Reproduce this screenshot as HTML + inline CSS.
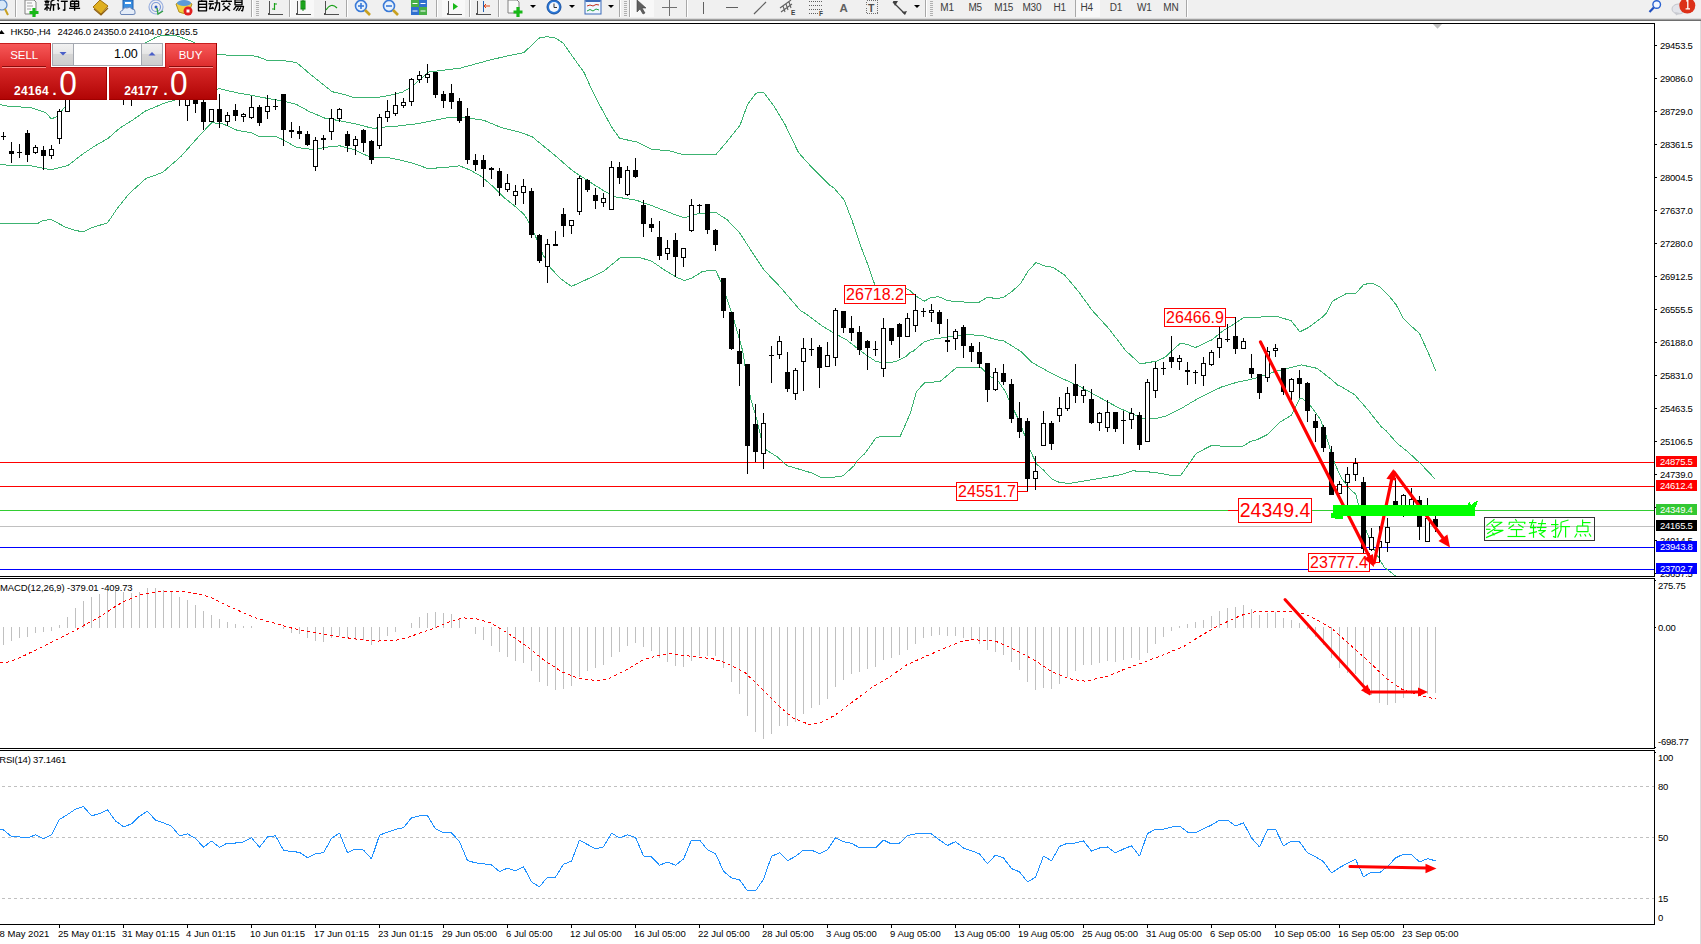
<!DOCTYPE html><html><head><meta charset="utf-8"><title>HK50 H4</title><style>
html,body{margin:0;padding:0;background:#fff;width:1701px;height:944px;overflow:hidden;}
svg{position:absolute;left:0;top:0;display:block;}
text{white-space:pre;}
</style></head><body>
<svg width="1701" height="944" viewBox="0 0 1701 944">
<defs>
<clipPath id="cm"><rect x="0" y="24" width="1654" height="552"/></clipPath>
<clipPath id="cmacd"><rect x="0" y="579" width="1654" height="169"/></clipPath>
<clipPath id="crsi"><rect x="0" y="751" width="1654" height="173"/></clipPath>
<linearGradient id="gsell" x1="0" y1="0" x2="0" y2="1"><stop offset="0" stop-color="#f85a5a"/><stop offset="1" stop-color="#dc2a2a"/></linearGradient>
<linearGradient id="gprice" x1="0" y1="0" x2="0" y2="1"><stop offset="0" stop-color="#d82828"/><stop offset="1" stop-color="#b00404"/></linearGradient>
<linearGradient id="gbtn" x1="0" y1="0" x2="0" y2="1"><stop offset="0" stop-color="#f2f2f2"/><stop offset="0.45" stop-color="#e6e6e6"/><stop offset="0.5" stop-color="#d6d6d6"/><stop offset="1" stop-color="#cdcdcd"/></linearGradient>
</defs>
<rect x="0" y="0" width="1701" height="944" fill="#fff"/>
<rect x="0" y="0" width="1701" height="18" fill="#f0f0f0"/>
<g shape-rendering="crispEdges">
<rect x="0" y="18" width="1701" height="1" fill="#dadada"/>
<rect x="0" y="19" width="1701" height="1" fill="#a0a0a0"/>
<rect x="0" y="20" width="1701" height="1" fill="#6e6e6e"/>
<rect x="15" y="0" width="1" height="17" fill="#a8a8a8"/>
<rect x="16" y="0" width="1" height="17" fill="#ffffff"/>
<rect x="251" y="0" width="1" height="17" fill="#a8a8a8"/>
<rect x="252" y="0" width="1" height="17" fill="#ffffff"/>
<rect x="289" y="0" width="1" height="17" fill="#a8a8a8"/>
<rect x="290" y="0" width="1" height="17" fill="#ffffff"/>
<rect x="346" y="0" width="1" height="17" fill="#a8a8a8"/>
<rect x="347" y="0" width="1" height="17" fill="#ffffff"/>
<rect x="436" y="0" width="1" height="17" fill="#a8a8a8"/>
<rect x="437" y="0" width="1" height="17" fill="#ffffff"/>
<rect x="469" y="0" width="1" height="17" fill="#a8a8a8"/>
<rect x="470" y="0" width="1" height="17" fill="#ffffff"/>
<rect x="498" y="0" width="1" height="17" fill="#a8a8a8"/>
<rect x="499" y="0" width="1" height="17" fill="#ffffff"/>
<rect x="619" y="0" width="1" height="17" fill="#a8a8a8"/>
<rect x="620" y="0" width="1" height="17" fill="#ffffff"/>
<rect x="629" y="0" width="1" height="17" fill="#a8a8a8"/>
<rect x="630" y="0" width="1" height="17" fill="#ffffff"/>
<rect x="686" y="0" width="1" height="17" fill="#a8a8a8"/>
<rect x="687" y="0" width="1" height="17" fill="#ffffff"/>
<rect x="925" y="0" width="1" height="17" fill="#a8a8a8"/>
<rect x="926" y="0" width="1" height="17" fill="#ffffff"/>
<rect x="1075" y="0" width="1" height="17" fill="#a8a8a8"/>
<rect x="1076" y="0" width="1" height="17" fill="#ffffff"/>
<rect x="1186" y="0" width="1" height="17" fill="#a8a8a8"/>
<rect x="1187" y="0" width="1" height="17" fill="#ffffff"/>
<rect x="256" y="1" width="3" height="1" fill="#b0b0b0"/>
<rect x="256" y="3" width="3" height="1" fill="#b0b0b0"/>
<rect x="256" y="5" width="3" height="1" fill="#b0b0b0"/>
<rect x="256" y="7" width="3" height="1" fill="#b0b0b0"/>
<rect x="256" y="9" width="3" height="1" fill="#b0b0b0"/>
<rect x="256" y="11" width="3" height="1" fill="#b0b0b0"/>
<rect x="256" y="13" width="3" height="1" fill="#b0b0b0"/>
<rect x="256" y="15" width="3" height="1" fill="#b0b0b0"/>
<rect x="624" y="1" width="3" height="1" fill="#b0b0b0"/>
<rect x="624" y="3" width="3" height="1" fill="#b0b0b0"/>
<rect x="624" y="5" width="3" height="1" fill="#b0b0b0"/>
<rect x="624" y="7" width="3" height="1" fill="#b0b0b0"/>
<rect x="624" y="9" width="3" height="1" fill="#b0b0b0"/>
<rect x="624" y="11" width="3" height="1" fill="#b0b0b0"/>
<rect x="624" y="13" width="3" height="1" fill="#b0b0b0"/>
<rect x="624" y="15" width="3" height="1" fill="#b0b0b0"/>
<rect x="930" y="1" width="3" height="1" fill="#b0b0b0"/>
<rect x="930" y="3" width="3" height="1" fill="#b0b0b0"/>
<rect x="930" y="5" width="3" height="1" fill="#b0b0b0"/>
<rect x="930" y="7" width="3" height="1" fill="#b0b0b0"/>
<rect x="930" y="9" width="3" height="1" fill="#b0b0b0"/>
<rect x="930" y="11" width="3" height="1" fill="#b0b0b0"/>
<rect x="930" y="13" width="3" height="1" fill="#b0b0b0"/>
<rect x="930" y="15" width="3" height="1" fill="#b0b0b0"/>
<rect x="291" y="0" width="23" height="17" fill="#f8f8f8"/>
<rect x="442" y="0" width="23" height="17" fill="#f8f8f8"/>
<rect x="631" y="0" width="23" height="17" fill="#f8f8f8"/>
<rect x="1076" y="0" width="24" height="17" fill="#f8f8f8"/>
</g>
<circle cx="2" cy="5" r="5" fill="#d8e8f8" stroke="#5a8ac8" stroke-width="1.2"/>
<line x1="5" y1="9" x2="8" y2="15" stroke="#c8a020" stroke-width="2"/>
<path d="M25,0 L34,0 L36,2 L36,14 L25,14 Z" fill="#fafafa" stroke="#808080" stroke-width="1"/>
<path d="M27,3 H32 M27,6 H33 M27,9 H31" stroke="#a0a0a0" stroke-width="1"/>
<path d="M34,8 V17 M29.5,12.5 H38.5" stroke="#18b818" stroke-width="3.2"/>
<polyline points="47.0,-1.2 47.0,0.8" fill="none" stroke="#000" stroke-width="1.35" stroke-linejoin="round" stroke-linecap="butt"/>
<polyline points="44.5,1.3 49.5,1.3" fill="none" stroke="#000" stroke-width="1.35" stroke-linejoin="round" stroke-linecap="butt"/>
<polyline points="45.0,2.8 49.0,2.8" fill="none" stroke="#000" stroke-width="1.35" stroke-linejoin="round" stroke-linecap="butt"/>
<polyline points="44.5,4.8 49.5,4.8" fill="none" stroke="#000" stroke-width="1.35" stroke-linejoin="round" stroke-linecap="butt"/>
<polyline points="47.0,4.8 47.0,10.8" fill="none" stroke="#000" stroke-width="1.35" stroke-linejoin="round" stroke-linecap="butt"/>
<polyline points="47.0,6.8 44.5,9.8" fill="none" stroke="#000" stroke-width="1.35" stroke-linejoin="round" stroke-linecap="butt"/>
<polyline points="47.0,6.8 49.5,8.8" fill="none" stroke="#000" stroke-width="1.35" stroke-linejoin="round" stroke-linecap="butt"/>
<polyline points="55.0,-0.7 51.0,1.3" fill="none" stroke="#000" stroke-width="1.35" stroke-linejoin="round" stroke-linecap="butt"/>
<polyline points="51.0,1.3 51.0,5.8 50.0,10.8" fill="none" stroke="#000" stroke-width="1.35" stroke-linejoin="round" stroke-linecap="butt"/>
<polyline points="51.0,4.8 55.5,4.8" fill="none" stroke="#000" stroke-width="1.35" stroke-linejoin="round" stroke-linecap="butt"/>
<polyline points="53.5,4.8 53.5,10.8" fill="none" stroke="#000" stroke-width="1.35" stroke-linejoin="round" stroke-linecap="butt"/>
<polyline points="57.3,-0.2 58.8,1.3" fill="none" stroke="#000" stroke-width="1.35" stroke-linejoin="round" stroke-linecap="butt"/>
<polyline points="56.8,3.8 58.3,3.8 58.3,9.3 59.8,7.8" fill="none" stroke="#000" stroke-width="1.35" stroke-linejoin="round" stroke-linecap="butt"/>
<polyline points="60.8,1.3 67.8,1.3" fill="none" stroke="#000" stroke-width="1.35" stroke-linejoin="round" stroke-linecap="butt"/>
<polyline points="64.8,1.3 64.8,10.3 62.8,9.8" fill="none" stroke="#000" stroke-width="1.35" stroke-linejoin="round" stroke-linecap="butt"/>
<polyline points="71.6,-1.2 73.1,0.3" fill="none" stroke="#000" stroke-width="1.35" stroke-linejoin="round" stroke-linecap="butt"/>
<polyline points="77.6,-1.2 76.1,0.3" fill="none" stroke="#000" stroke-width="1.35" stroke-linejoin="round" stroke-linecap="butt"/>
<polyline points="70.6,1.3 78.6,1.3 78.6,6.3 70.6,6.3 70.6,1.3" fill="none" stroke="#000" stroke-width="1.35" stroke-linejoin="round" stroke-linecap="butt"/>
<polyline points="70.6,3.8 78.6,3.8" fill="none" stroke="#000" stroke-width="1.35" stroke-linejoin="round" stroke-linecap="butt"/>
<polyline points="74.6,1.3 74.6,10.8" fill="none" stroke="#000" stroke-width="1.35" stroke-linejoin="round" stroke-linecap="butt"/>
<polyline points="69.1,8.3 80.1,8.3" fill="none" stroke="#000" stroke-width="1.35" stroke-linejoin="round" stroke-linecap="butt"/>
<polyline points="202.5,-1.2 201.5,0.8" fill="none" stroke="#000" stroke-width="1.35" stroke-linejoin="round" stroke-linecap="butt"/>
<polyline points="198.5,1.3 206.5,1.3 206.5,10.8 198.5,10.8 198.5,1.3" fill="none" stroke="#000" stroke-width="1.35" stroke-linejoin="round" stroke-linecap="butt"/>
<polyline points="198.5,4.3 206.5,4.3" fill="none" stroke="#000" stroke-width="1.35" stroke-linejoin="round" stroke-linecap="butt"/>
<polyline points="198.5,7.3 206.5,7.3" fill="none" stroke="#000" stroke-width="1.35" stroke-linejoin="round" stroke-linecap="butt"/>
<polyline points="209.0,1.3 213.5,1.3" fill="none" stroke="#000" stroke-width="1.35" stroke-linejoin="round" stroke-linecap="butt"/>
<polyline points="208.5,3.8 214.0,3.8" fill="none" stroke="#000" stroke-width="1.35" stroke-linejoin="round" stroke-linecap="butt"/>
<polyline points="211.0,3.8 209.5,8.8 213.5,7.8" fill="none" stroke="#000" stroke-width="1.35" stroke-linejoin="round" stroke-linecap="butt"/>
<polyline points="212.0,6.8 213.5,8.8" fill="none" stroke="#000" stroke-width="1.35" stroke-linejoin="round" stroke-linecap="butt"/>
<polyline points="214.5,2.8 219.5,2.8 219.5,10.3 218.0,9.8" fill="none" stroke="#000" stroke-width="1.35" stroke-linejoin="round" stroke-linecap="butt"/>
<polyline points="217.0,-0.2 217.0,3.8 214.5,10.8" fill="none" stroke="#000" stroke-width="1.35" stroke-linejoin="round" stroke-linecap="butt"/>
<polyline points="226.5,-1.2 226.5,0.8" fill="none" stroke="#000" stroke-width="1.35" stroke-linejoin="round" stroke-linecap="butt"/>
<polyline points="221.0,1.3 232.0,1.3" fill="none" stroke="#000" stroke-width="1.35" stroke-linejoin="round" stroke-linecap="butt"/>
<polyline points="224.5,2.8 222.5,4.8" fill="none" stroke="#000" stroke-width="1.35" stroke-linejoin="round" stroke-linecap="butt"/>
<polyline points="228.5,2.8 230.5,4.8" fill="none" stroke="#000" stroke-width="1.35" stroke-linejoin="round" stroke-linecap="butt"/>
<polyline points="223.5,5.8 230.0,10.8" fill="none" stroke="#000" stroke-width="1.35" stroke-linejoin="round" stroke-linecap="butt"/>
<polyline points="229.5,5.8 222.5,10.8" fill="none" stroke="#000" stroke-width="1.35" stroke-linejoin="round" stroke-linecap="butt"/>
<polyline points="235.0,-0.2 242.0,-0.2 242.0,4.8 235.0,4.8 235.0,-0.2" fill="none" stroke="#000" stroke-width="1.35" stroke-linejoin="round" stroke-linecap="butt"/>
<polyline points="235.0,2.3 242.0,2.3" fill="none" stroke="#000" stroke-width="1.35" stroke-linejoin="round" stroke-linecap="butt"/>
<polyline points="235.5,6.3 243.5,6.3 242.5,10.8 241.0,10.3" fill="none" stroke="#000" stroke-width="1.35" stroke-linejoin="round" stroke-linecap="butt"/>
<polyline points="236.5,5.8 233.5,9.8" fill="none" stroke="#000" stroke-width="1.35" stroke-linejoin="round" stroke-linecap="butt"/>
<polyline points="238.5,7.3 236.0,10.8" fill="none" stroke="#000" stroke-width="1.35" stroke-linejoin="round" stroke-linecap="butt"/>
<polyline points="241.0,7.3 238.5,10.8" fill="none" stroke="#000" stroke-width="1.35" stroke-linejoin="round" stroke-linecap="butt"/>
<path d="M93,7 L100,0 L108,6 L101,14 Z" fill="#e0b020" stroke="#a07010" stroke-width="1"/>
<path d="M94,9 L101,15 L108,8" fill="none" stroke="#906010" stroke-width="1.2"/>
<rect x="123" y="0" width="10" height="9" fill="#3a8ee0" stroke="#2060b0"/>
<rect x="125" y="2" width="6" height="2" fill="#ffffff"/>
<path d="M121,14.5 Q119,11 122.5,10.5 Q123.5,7 127,8 Q130,6 132,9 Q135.5,9 135,12 Q136,14.5 133,14.5 Z" fill="#e4ecf8" stroke="#6a86b8" stroke-width="1"/>
<circle cx="156" cy="7" r="7" fill="none" stroke="#9ab0e0" stroke-width="1.2"/>
<circle cx="156" cy="7" r="4.5" fill="none" stroke="#7a98d8" stroke-width="1.2"/>
<circle cx="156" cy="7" r="1.5" fill="#3060c0"/>
<path d="M157,8 L158,14 L163,11" fill="none" stroke="#30a040" stroke-width="1.4"/>
<path d="M176,4 Q184,-2 192,4 L189,12 Q184,15 179,12 Z" fill="#f0d040" stroke="#b09020"/>
<ellipse cx="184" cy="3" rx="7" ry="3" fill="#5a9ad8"/>
<circle cx="188" cy="11" r="4.5" fill="#e02020"/>
<rect x="186.5" y="9.5" width="3" height="3" fill="#fff"/>
<path d="M269,1 V14 H282" fill="none" stroke="#505050" stroke-width="1" shape-rendering="crispEdges"/><path d="M268,13 V15 M281,14 h2" stroke="#505050" stroke-width="1" shape-rendering="crispEdges"/>
<path d="M274.5,3 V10 M274.5,4 H277 M272,9 H274.5" stroke="#18a018" stroke-width="1.2" fill="none"/>
<path d="M297,1 V14 H310" fill="none" stroke="#505050" stroke-width="1" shape-rendering="crispEdges"/><path d="M296,13 V15 M309,14 h2" stroke="#505050" stroke-width="1" shape-rendering="crispEdges"/>
<rect x="301" y="1" width="4" height="8" fill="#28c828" stroke="#108010"/>
<path d="M303,0 V11" stroke="#108010"/>
<path d="M325,1 V14 H338" fill="none" stroke="#505050" stroke-width="1" shape-rendering="crispEdges"/><path d="M324,13 V15 M337,14 h2" stroke="#505050" stroke-width="1" shape-rendering="crispEdges"/>
<path d="M326,10 Q331,2 337,8" fill="none" stroke="#18a018" stroke-width="1.2"/>
<circle cx="361" cy="6" r="5.5" fill="#e8f2fc" stroke="#3a7ad8" stroke-width="1.6"/>
<line x1="365" y1="10" x2="370" y2="15" stroke="#c8a020" stroke-width="2.6"/>
<path d="M358,6 H364" stroke="#3a7ad8" stroke-width="1.6"/>
<path d="M361,3 V9" stroke="#3a7ad8" stroke-width="1.6"/>
<circle cx="389" cy="6" r="5.5" fill="#e8f2fc" stroke="#3a7ad8" stroke-width="1.6"/>
<line x1="393" y1="10" x2="398" y2="15" stroke="#c8a020" stroke-width="2.6"/>
<path d="M386,6 H392" stroke="#3a7ad8" stroke-width="1.6"/>
<rect x="411" y="0" width="8" height="7" fill="#48b048"/><rect x="419" y="0" width="8" height="7" fill="#3070d0"/>
<rect x="411" y="7" width="8" height="8" fill="#3070d0"/><rect x="419" y="7" width="8" height="8" fill="#48b048"/>
<path d="M412.5,3.5 h5 M420.5,3.5 h5 M412.5,11 h5 M420.5,11 h5" stroke="#fff" stroke-width="1"/>
<path d="M448,1 V14 H461" fill="none" stroke="#505050" stroke-width="1" shape-rendering="crispEdges"/><path d="M447,13 V15 M460,14 h2" stroke="#505050" stroke-width="1" shape-rendering="crispEdges"/>
<polygon points="453,3 453,10 458,6.5" fill="#18b818"/>
<path d="M477,1 V14 H490" fill="none" stroke="#505050" stroke-width="1" shape-rendering="crispEdges"/><path d="M476,13 V15 M489,14 h2" stroke="#505050" stroke-width="1" shape-rendering="crispEdges"/>
<path d="M483.5,1 V12" stroke="#2060b0"/><path d="M484,6 H490 M486,4 L484,6 L486,8" stroke="#e04010" fill="none"/>
<path d="M508,0 L517,0 L519,2 L519,13 L508,13 Z" fill="#fafafa" stroke="#808080" stroke-width="1"/>
<path d="M518,7 V17 M513.5,12 H522.5" stroke="#18b818" stroke-width="3.2"/>
<polygon points="530,5 536,5 533,8" fill="#000"/>
<circle cx="554" cy="7" r="7" fill="#2a78d8" stroke="#1850a0"/>
<circle cx="554" cy="7" r="5" fill="#f4f8fc"/>
<path d="M554,3.5 V7.5 H557" stroke="#333" fill="none"/>
<polygon points="569,5 575,5 572,8" fill="#000"/>
<rect x="585" y="0" width="16" height="14" fill="#f0f6ff" stroke="#3a6ab8"/>
<rect x="585.5" y="0" width="15" height="2" fill="#3a6ab8"/>
<path d="M587,6 L590,5 L593,6 L596,4.5 L599,5" fill="none" stroke="#c03020"/>
<path d="M587,11 L590,9.5 L593,11 L596,9 L599,10" fill="none" stroke="#20a040"/>
<polygon points="608,5 614,5 611,8" fill="#000"/>
<polygon points="637,0 637,12 640,9 643,14 645,13 642,8 646,8" fill="#606060" stroke="#404040" stroke-width="0.6"/>
<path d="M669.5,0 V16 M662,7.5 H677" stroke="#707070" stroke-width="1" shape-rendering="crispEdges"/>
<path d="M703.5,2 V14" stroke="#606060" stroke-width="1.2" shape-rendering="crispEdges"/>
<path d="M726,7.5 H738" stroke="#606060" stroke-width="1.2" shape-rendering="crispEdges"/>
<path d="M754,14 L766,2" stroke="#606060" stroke-width="1.2"/>
<path d="M780,8 L791,0 M781,12 L792,4 M783,6 L785,12 M786,4 L788,10 M789,2 L791,8" stroke="#606060" stroke-width="1.1" fill="none"/>
<text x="791" y="15" fill="#404040" text-anchor="start" style='font-family:"Liberation Sans", sans-serif;font-size:6.5px;font-weight:bold;' >E</text>
<path d="M809,1.5 H822 M809,5.5 H822 M809,9.5 H822 M809,13.5 H818" stroke="#606060" stroke-width="1" stroke-dasharray="1 1" shape-rendering="crispEdges"/>
<text x="819" y="15.5" fill="#404040" text-anchor="start" style='font-family:"Liberation Sans", sans-serif;font-size:6.5px;font-weight:bold;' >F</text>
<text x="839.5" y="12" fill="#606060" text-anchor="start" style='font-family:"Liberation Sans", sans-serif;font-size:11.5px;font-weight:bold;' >A</text>
<rect x="866.5" y="0.5" width="11" height="13" fill="none" stroke="#707070" stroke-dasharray="1 1" shape-rendering="crispEdges"/>
<text x="868" y="11.5" fill="#505050" text-anchor="start" style='font-family:"Liberation Sans", sans-serif;font-size:10.5px;font-weight:bold;' >T</text>
<path d="M893,2 L897,6 L901,10 L905,14" stroke="#404040" stroke-width="1.2"/>
<polygon points="893,1 898,1 895,6" fill="#404040"/><polygon points="902,12 907,11 905,15" fill="#404040"/>
<polygon points="914,5 920,5 917,8" fill="#000"/>
<text x="940.3" y="11" fill="#3c3c3c" text-anchor="start" style='font-family:"Liberation Sans", sans-serif;font-size:10px;font-weight:normal;letter-spacing:-0.2px;' >M1</text>
<text x="968.4" y="11" fill="#3c3c3c" text-anchor="start" style='font-family:"Liberation Sans", sans-serif;font-size:10px;font-weight:normal;letter-spacing:-0.2px;' >M5</text>
<text x="994.3" y="11" fill="#3c3c3c" text-anchor="start" style='font-family:"Liberation Sans", sans-serif;font-size:10px;font-weight:normal;letter-spacing:-0.2px;' >M15</text>
<text x="1022.4" y="11" fill="#3c3c3c" text-anchor="start" style='font-family:"Liberation Sans", sans-serif;font-size:10px;font-weight:normal;letter-spacing:-0.2px;' >M30</text>
<text x="1053.5" y="11" fill="#3c3c3c" text-anchor="start" style='font-family:"Liberation Sans", sans-serif;font-size:10px;font-weight:normal;letter-spacing:-0.2px;' >H1</text>
<text x="1080.5" y="11" fill="#3c3c3c" text-anchor="start" style='font-family:"Liberation Sans", sans-serif;font-size:10px;font-weight:normal;letter-spacing:-0.2px;' >H4</text>
<text x="1109.7" y="11" fill="#3c3c3c" text-anchor="start" style='font-family:"Liberation Sans", sans-serif;font-size:10px;font-weight:normal;letter-spacing:-0.2px;' >D1</text>
<text x="1137" y="11" fill="#3c3c3c" text-anchor="start" style='font-family:"Liberation Sans", sans-serif;font-size:10px;font-weight:normal;letter-spacing:-0.2px;' >W1</text>
<text x="1163.3" y="11" fill="#3c3c3c" text-anchor="start" style='font-family:"Liberation Sans", sans-serif;font-size:10px;font-weight:normal;letter-spacing:-0.2px;' >MN</text>
<circle cx="1656.7" cy="4.5" r="3.8" fill="#f4f8ff" stroke="#2a62d0" stroke-width="1.4"/>
<line x1="1653.8" y1="7.6" x2="1649.5" y2="12" stroke="#2050c0" stroke-width="2.2"/>
<ellipse cx="1678.5" cy="9" rx="6.5" ry="5" fill="#e2e4ea" stroke="#c4c6cc"/>
<polygon points="1675,12 1676,15.5 1680,13" fill="#c8cad0"/>
<circle cx="1687.3" cy="5.6" r="8" fill="#dc3018"/>
<path d="M1686.2,1.2 L1687.8,0.2 L1687.8,8.6 M1685.6,8.8 H1690" stroke="#fff" stroke-width="1.3" fill="none"/>
<g shape-rendering="crispEdges">
<rect x="0" y="462" width="1654" height="1" fill="#ff0000"/>
<rect x="0" y="486" width="1654" height="1" fill="#ff0000"/>
<rect x="0" y="510" width="1654" height="1" fill="#32cd32"/>
<rect x="0" y="526" width="1654" height="1" fill="#c0c0c0"/>
<rect x="0" y="547" width="1654" height="1" fill="#0000ff"/>
<rect x="0" y="569" width="1654" height="1" fill="#0000ff"/>
</g>
<g clip-path="url(#cm)" shape-rendering="crispEdges">
<polyline points="-3.5,104.8 0.5,104.8 10.5,106.7 20.5,107.0 30.5,107.5 45.5,112.5 51.5,118.9 57.5,116.2 65.5,106.2 75.5,92.5 90.5,75.5 110.5,60.5 130.5,48.5 148.5,41.5 155.5,37.5 162.5,35.0 176.5,35.8 191.0,41.1 205.5,48.5 219.2,54.9 238.5,55.2 256.2,56.1 268.5,60.9 282.5,60.5 296.5,62.5 309.2,73.3 319.4,81.5 332.1,91.7 341.0,93.6 355.0,97.8 366.4,97.8 382.9,96.8 402.0,92.4 409.6,87.9 414.5,84.7 416.5,82.2 429.0,72.0 460.8,68.0 488.8,60.3 509.1,55.5 523.8,52.7 539.8,37.6 547.3,36.7 555.7,38.2 563.3,43.3 574.5,59.2 584.0,72.4 593.4,93.1 602.8,111.0 612.2,127.9 619.7,138.3 636.6,142.0 651.7,149.5 668.6,150.5 683.7,154.8 715.7,154.8 725.1,143.9 740.1,125.1 747.6,104.4 756.1,93.1 763.6,92.2 774.0,106.3 785.3,125.1 798.4,152.4 812.3,168.0 828.2,183.9 834.5,188.6 844.1,199.8 852.0,220.4 860.0,244.3 867.9,264.9 875.1,285.6 890.5,287.5 906.5,288.6 910.5,291.0 916.4,296.4 924.3,301.2 930.7,297.7 938.6,296.7 948.2,300.8 964.1,302.0 978.4,302.7 987.9,296.9 995.8,298.8 1003.8,297.2 1011.7,291.6 1020.5,283.7 1027.5,271.9 1035.9,262.5 1044.4,265.9 1052.9,267.3 1064.7,275.2 1078.3,291.3 1091.9,310.0 1108.8,328.6 1125.8,350.7 1140.2,363.9 1156.3,361.2 1164.7,357.5 1180.0,343.5 1186.8,344.2 1195.2,347.6 1212.2,339.7 1222.4,331.2 1230.8,326.1 1244.4,317.1 1250.5,317.1 1257.5,317.4 1269.3,316.1 1277.8,316.6 1291.3,320.8 1299.8,331.9 1308.3,327.6 1321.9,317.4 1325.9,313.7 1328.6,309.0 1332.2,302.0 1333.7,300.5 1345.7,293.9 1355.6,293.5 1363.7,284.5 1371.8,283.1 1379.9,286.7 1388.9,295.7 1396.1,304.7 1403.3,318.2 1410.5,325.4 1419.5,333.5 1428.5,353.3 1435.8,371.0" fill="none" stroke="#3cb371" stroke-width="1" stroke-linejoin="bevel" />
<polyline points="-3.5,164.8 0.5,164.8 31.1,165.9 51.0,169.7 67.8,165.6 81.5,154.9 95.3,145.7 107.5,138.8 119.8,128.1 132.0,120.5 145.8,110.8 152.8,108.0 165.3,102.8 180.5,98.5 200.5,93.5 219.5,88.7 237.5,92.9 252.5,95.5 265.5,98.0 282.0,100.9 296.5,104.4 309.2,111.5 324.5,118.0 341.0,121.0 353.7,123.5 371.5,128.0 376.5,128.0 385.5,126.9 398.2,126.0 416.5,123.8 437.9,119.7 450.5,117.2 463.3,117.2 483.7,120.3 501.5,127.7 520.5,132.4 532.5,136.9 536.7,140.5 554.2,154.8 572.5,170.7 588.3,181.0 604.2,191.0 615.3,196.9 636.0,200.1 651.8,205.7 676.5,215.2 684.3,217.9 695.5,214.2 711.4,212.6 716.1,212.6 727.2,219.8 740.0,233.3 752.7,253.1 763.8,269.8 780.5,287.3 800.5,310.6 806.4,314.1 822.3,326.0 833.4,332.8 846.1,339.5 857.2,348.2 866.8,355.4 876.3,361.7 885.8,363.0 895.4,361.7 904.9,357.3 910.5,352.2 913.2,351.2 924.3,341.7 932.3,339.3 948.2,336.9 956.1,335.3 972.0,334.8 983.1,335.8 995.8,339.6 1003.8,340.9 1020.5,351.2 1032.3,362.7 1048.2,371.5 1064.1,379.4 1080.0,386.6 1092.7,393.7 1111.7,404.1 1120.5,408.8 1126.4,411.2 1142.3,418.0 1158.2,418.0 1166.1,416.0 1182.0,408.0 1197.9,398.5 1221.7,386.9 1237.6,382.1 1250.5,379.5 1257.5,377.6 1274.4,371.7 1291.3,367.4 1301.5,364.9 1316.8,368.3 1330.3,378.5 1338.5,385.8 1340.5,386.1 1354.7,394.8 1367.3,409.2 1381.7,427.2 1385.9,430.5 1397.0,443.2 1408.1,452.0 1420.8,463.9 1435.1,479.0" fill="none" stroke="#3cb371" stroke-width="1" stroke-linejoin="bevel" />
<polyline points="-3.5,223.7 0.5,223.7 37.2,223.7 42.5,220.7 51.0,219.5 66.2,227.5 75.5,230.5 83.1,231.8 92.2,227.5 107.5,222.9 116.7,209.2 128.9,193.9 145.8,178.6 162.5,172.5 180.9,156.5 199.3,135.8 211.5,122.8 222.2,123.5 237.5,130.5 251.3,132.7 260.5,137.0 276.9,136.8 284.5,140.5 296.5,147.5 313.0,149.5 328.3,147.0 339.7,145.8 353.7,149.5 370.2,157.2 389.3,157.8 402.0,160.4 416.0,164.2 427.8,168.6 445.5,167.4 459.5,165.8 469.7,169.9 481.1,176.3 492.2,185.8 503.3,196.9 516.1,207.2 524.0,214.4 530.4,224.7 536.7,239.0 543.1,254.9 551.0,268.4 560.5,278.7 571.5,286.4 572.5,285.9 588.3,278.7 604.2,270.8 620.1,257.8 628.0,257.3 640.7,257.8 651.8,261.3 664.5,270.0 676.5,277.2 684.3,280.5 692.3,277.8 701.8,271.9 708.2,270.6 715.8,270.6 720.9,281.7 727.2,299.2 734.7,322.7 742.7,350.9 745.8,371.0 750.8,399.2 756.8,419.3 761.9,441.5 766.9,450.5 777.0,456.6 787.0,465.6 800.5,469.6 811.2,472.8 820.8,477.3 827.7,478.0 842.8,475.9 853.9,465.9 858.0,459.7 864.9,453.5 875.9,438.0 880.0,436.7 900.0,436.7 905.5,424.5 910.5,412.5 916.4,391.7 924.3,383.0 940.2,381.4 956.1,367.9 976.8,367.1 981.5,367.9 989.5,375.8 999.0,382.2 1005.4,391.7 1011.7,406.0 1018.1,418.7 1024.3,434.3 1030.7,451.7 1037.0,464.5 1043.4,470.0 1051.4,478.7 1059.3,482.4 1068.8,483.5 1080.0,481.6 1095.8,479.1 1120.5,474.8 1132.7,470.8 1155.0,472.4 1174.1,475.9 1180.4,475.9 1196.3,453.3 1212.2,445.1 1224.9,446.6 1242.4,446.6 1250.5,441.4 1257.5,439.5 1267.6,434.4 1279.5,422.5 1291.3,415.4 1299.8,398.5 1303.2,399.1 1311.7,407.3 1320.2,419.1 1325.2,432.7 1330.3,449.7 1335.0,463.9 1341.4,478.2 1349.3,488.5 1355.7,494.1 1358.1,503.6 1366.8,532.2 1373.2,548.1 1379.5,559.2 1384.3,567.2 1395.4,575.9" fill="none" stroke="#3cb371" stroke-width="1" stroke-linejoin="bevel" />
</g>
<g clip-path="url(#cm)" shape-rendering="crispEdges">
<rect x="-5" y="128" width="1" height="6" fill="#000"/>
<rect x="-5" y="136" width="1" height="4" fill="#000"/>
<rect x="-7" y="134" width="5" height="2" fill="#000"/>
<rect x="3" y="132" width="1" height="4" fill="#000"/>
<rect x="3" y="137" width="1" height="3" fill="#000"/>
<rect x="1" y="136" width="5" height="1" fill="#000"/>
<rect x="11" y="142" width="1" height="9" fill="#000"/>
<rect x="11" y="154" width="1" height="9" fill="#000"/>
<rect x="9" y="151" width="5" height="3" fill="#000"/>
<rect x="19" y="144" width="1" height="8" fill="#000"/>
<rect x="19" y="153" width="1" height="5" fill="#000"/>
<rect x="17" y="152" width="5" height="1" fill="#000"/>
<rect x="27" y="130" width="1" height="3" fill="#000"/>
<rect x="27" y="155" width="1" height="7" fill="#000"/>
<rect x="25" y="133" width="5" height="22" fill="#000"/>
<rect x="35" y="145" width="1" height="2" fill="#000"/>
<rect x="35" y="153" width="1" height="1" fill="#000"/>
<rect x="33" y="147" width="5" height="6" fill="#000"/>
<rect x="34" y="148" width="3" height="4" fill="#fff"/>
<rect x="43" y="146" width="1" height="4" fill="#000"/>
<rect x="43" y="156" width="1" height="14" fill="#000"/>
<rect x="41" y="150" width="5" height="6" fill="#000"/>
<rect x="51" y="145" width="1" height="4" fill="#000"/>
<rect x="51" y="156" width="1" height="3" fill="#000"/>
<rect x="49" y="149" width="5" height="7" fill="#000"/>
<rect x="50" y="150" width="3" height="5" fill="#fff"/>
<rect x="59" y="109" width="1" height="2" fill="#000"/>
<rect x="59" y="139" width="1" height="5" fill="#000"/>
<rect x="57" y="111" width="5" height="28" fill="#000"/>
<rect x="58" y="112" width="3" height="26" fill="#fff"/>
<rect x="67" y="80" width="1" height="5" fill="#000"/>
<rect x="65" y="85" width="5" height="27" fill="#000"/>
<rect x="66" y="86" width="3" height="25" fill="#fff"/>
<rect x="75" y="70" width="1" height="5" fill="#000"/>
<rect x="75" y="85" width="1" height="7" fill="#000"/>
<rect x="73" y="75" width="5" height="10" fill="#000"/>
<rect x="74" y="76" width="3" height="8" fill="#fff"/>
<rect x="83" y="68" width="1" height="7" fill="#000"/>
<rect x="83" y="80" width="1" height="8" fill="#000"/>
<rect x="81" y="75" width="5" height="5" fill="#000"/>
<rect x="91" y="62" width="1" height="8" fill="#000"/>
<rect x="91" y="80" width="1" height="4" fill="#000"/>
<rect x="89" y="70" width="5" height="10" fill="#000"/>
<rect x="90" y="71" width="3" height="8" fill="#fff"/>
<rect x="99" y="58" width="1" height="7" fill="#000"/>
<rect x="99" y="70" width="1" height="8" fill="#000"/>
<rect x="97" y="65" width="5" height="5" fill="#000"/>
<rect x="98" y="66" width="3" height="3" fill="#fff"/>
<rect x="107" y="60" width="1" height="5" fill="#000"/>
<rect x="107" y="72" width="1" height="8" fill="#000"/>
<rect x="105" y="65" width="5" height="7" fill="#000"/>
<rect x="115" y="60" width="1" height="8" fill="#000"/>
<rect x="115" y="72" width="1" height="13" fill="#000"/>
<rect x="113" y="68" width="5" height="4" fill="#000"/>
<rect x="114" y="69" width="3" height="2" fill="#fff"/>
<rect x="123" y="64" width="1" height="4" fill="#000"/>
<rect x="123" y="80" width="1" height="25" fill="#000"/>
<rect x="121" y="68" width="5" height="12" fill="#000"/>
<rect x="131" y="66" width="1" height="6" fill="#000"/>
<rect x="131" y="80" width="1" height="26" fill="#000"/>
<rect x="129" y="72" width="5" height="8" fill="#000"/>
<rect x="130" y="73" width="3" height="6" fill="#fff"/>
<rect x="139" y="58" width="1" height="8" fill="#000"/>
<rect x="139" y="72" width="1" height="8" fill="#000"/>
<rect x="137" y="66" width="5" height="6" fill="#000"/>
<rect x="138" y="67" width="3" height="4" fill="#fff"/>
<rect x="147" y="60" width="1" height="6" fill="#000"/>
<rect x="147" y="74" width="1" height="8" fill="#000"/>
<rect x="145" y="66" width="5" height="8" fill="#000"/>
<rect x="155" y="64" width="1" height="6" fill="#000"/>
<rect x="155" y="74" width="1" height="12" fill="#000"/>
<rect x="153" y="70" width="5" height="4" fill="#000"/>
<rect x="154" y="71" width="3" height="2" fill="#fff"/>
<rect x="163" y="66" width="1" height="4" fill="#000"/>
<rect x="163" y="84" width="1" height="8" fill="#000"/>
<rect x="161" y="70" width="5" height="14" fill="#000"/>
<rect x="171" y="78" width="1" height="6" fill="#000"/>
<rect x="171" y="90" width="1" height="8" fill="#000"/>
<rect x="169" y="84" width="5" height="6" fill="#000"/>
<rect x="179" y="90" width="1" height="6" fill="#000"/>
<rect x="179" y="98" width="1" height="8" fill="#000"/>
<rect x="177" y="96" width="5" height="2" fill="#000"/>
<rect x="187" y="88" width="1" height="6" fill="#000"/>
<rect x="187" y="106" width="1" height="15" fill="#000"/>
<rect x="185" y="94" width="5" height="12" fill="#000"/>
<rect x="186" y="95" width="3" height="10" fill="#fff"/>
<rect x="195" y="90" width="1" height="5" fill="#000"/>
<rect x="195" y="104" width="1" height="9" fill="#000"/>
<rect x="193" y="95" width="5" height="9" fill="#000"/>
<rect x="203" y="96" width="1" height="6" fill="#000"/>
<rect x="203" y="122" width="1" height="8" fill="#000"/>
<rect x="201" y="102" width="5" height="20" fill="#000"/>
<rect x="209" y="109" width="5" height="13" fill="#000"/>
<rect x="210" y="110" width="3" height="11" fill="#fff"/>
<rect x="219" y="94" width="1" height="15" fill="#000"/>
<rect x="219" y="122" width="1" height="6" fill="#000"/>
<rect x="217" y="109" width="5" height="13" fill="#000"/>
<rect x="227" y="112" width="1" height="3" fill="#000"/>
<rect x="227" y="122" width="1" height="4" fill="#000"/>
<rect x="225" y="115" width="5" height="7" fill="#000"/>
<rect x="226" y="116" width="3" height="5" fill="#fff"/>
<rect x="235" y="104" width="1" height="6" fill="#000"/>
<rect x="235" y="116" width="1" height="5" fill="#000"/>
<rect x="233" y="110" width="5" height="6" fill="#000"/>
<rect x="243" y="113" width="1" height="1" fill="#000"/>
<rect x="243" y="117" width="1" height="5" fill="#000"/>
<rect x="241" y="114" width="5" height="3" fill="#000"/>
<rect x="242" y="115" width="3" height="1" fill="#fff"/>
<rect x="251" y="96" width="1" height="11" fill="#000"/>
<rect x="251" y="118" width="1" height="1" fill="#000"/>
<rect x="249" y="107" width="5" height="11" fill="#000"/>
<rect x="250" y="108" width="3" height="9" fill="#fff"/>
<rect x="259" y="105" width="1" height="2" fill="#000"/>
<rect x="259" y="123" width="1" height="3" fill="#000"/>
<rect x="257" y="107" width="5" height="16" fill="#000"/>
<rect x="267" y="95" width="1" height="11" fill="#000"/>
<rect x="267" y="112" width="1" height="7" fill="#000"/>
<rect x="265" y="106" width="5" height="6" fill="#000"/>
<rect x="266" y="107" width="3" height="4" fill="#fff"/>
<rect x="275" y="99" width="1" height="7" fill="#000"/>
<rect x="275" y="107" width="1" height="3" fill="#000"/>
<rect x="273" y="106" width="5" height="1" fill="#000"/>
<rect x="283" y="130" width="1" height="16" fill="#000"/>
<rect x="281" y="94" width="5" height="36" fill="#000"/>
<rect x="291" y="122" width="1" height="8" fill="#000"/>
<rect x="291" y="132" width="1" height="6" fill="#000"/>
<rect x="289" y="130" width="5" height="2" fill="#000"/>
<rect x="299" y="126" width="1" height="5" fill="#000"/>
<rect x="299" y="134" width="1" height="5" fill="#000"/>
<rect x="297" y="131" width="5" height="3" fill="#000"/>
<rect x="307" y="131" width="1" height="3" fill="#000"/>
<rect x="307" y="145" width="1" height="1" fill="#000"/>
<rect x="305" y="134" width="5" height="11" fill="#000"/>
<rect x="315" y="137" width="1" height="3" fill="#000"/>
<rect x="315" y="167" width="1" height="4" fill="#000"/>
<rect x="313" y="140" width="5" height="27" fill="#000"/>
<rect x="314" y="141" width="3" height="25" fill="#fff"/>
<rect x="323" y="135" width="1" height="3" fill="#000"/>
<rect x="323" y="140" width="1" height="10" fill="#000"/>
<rect x="321" y="138" width="5" height="2" fill="#000"/>
<rect x="331" y="109" width="1" height="9" fill="#000"/>
<rect x="331" y="132" width="1" height="8" fill="#000"/>
<rect x="329" y="118" width="5" height="14" fill="#000"/>
<rect x="330" y="119" width="3" height="12" fill="#fff"/>
<rect x="339" y="108" width="1" height="1" fill="#000"/>
<rect x="339" y="119" width="1" height="3" fill="#000"/>
<rect x="337" y="109" width="5" height="10" fill="#000"/>
<rect x="338" y="110" width="3" height="8" fill="#fff"/>
<rect x="347" y="131" width="1" height="3" fill="#000"/>
<rect x="347" y="146" width="1" height="6" fill="#000"/>
<rect x="345" y="134" width="5" height="12" fill="#000"/>
<rect x="355" y="136" width="1" height="3" fill="#000"/>
<rect x="355" y="146" width="1" height="9" fill="#000"/>
<rect x="353" y="139" width="5" height="7" fill="#000"/>
<rect x="354" y="140" width="3" height="5" fill="#fff"/>
<rect x="363" y="129" width="1" height="1" fill="#000"/>
<rect x="363" y="143" width="1" height="9" fill="#000"/>
<rect x="361" y="130" width="5" height="13" fill="#000"/>
<rect x="371" y="140" width="1" height="1" fill="#000"/>
<rect x="371" y="160" width="1" height="4" fill="#000"/>
<rect x="369" y="141" width="5" height="19" fill="#000"/>
<rect x="379" y="114" width="1" height="3" fill="#000"/>
<rect x="379" y="146" width="1" height="3" fill="#000"/>
<rect x="377" y="117" width="5" height="29" fill="#000"/>
<rect x="378" y="118" width="3" height="27" fill="#fff"/>
<rect x="387" y="100" width="1" height="11" fill="#000"/>
<rect x="387" y="118" width="1" height="4" fill="#000"/>
<rect x="385" y="111" width="5" height="7" fill="#000"/>
<rect x="386" y="112" width="3" height="5" fill="#fff"/>
<rect x="395" y="92" width="1" height="13" fill="#000"/>
<rect x="395" y="114" width="1" height="2" fill="#000"/>
<rect x="393" y="105" width="5" height="9" fill="#000"/>
<rect x="394" y="106" width="3" height="7" fill="#fff"/>
<rect x="403" y="98" width="1" height="4" fill="#000"/>
<rect x="403" y="106" width="1" height="2" fill="#000"/>
<rect x="401" y="102" width="5" height="4" fill="#000"/>
<rect x="402" y="103" width="3" height="2" fill="#fff"/>
<rect x="411" y="78" width="1" height="1" fill="#000"/>
<rect x="411" y="102" width="1" height="4" fill="#000"/>
<rect x="409" y="79" width="5" height="23" fill="#000"/>
<rect x="410" y="80" width="3" height="21" fill="#fff"/>
<rect x="419" y="71" width="1" height="4" fill="#000"/>
<rect x="419" y="80" width="1" height="3" fill="#000"/>
<rect x="417" y="75" width="5" height="5" fill="#000"/>
<rect x="418" y="76" width="3" height="3" fill="#fff"/>
<rect x="427" y="64" width="1" height="10" fill="#000"/>
<rect x="427" y="78" width="1" height="5" fill="#000"/>
<rect x="425" y="74" width="5" height="4" fill="#000"/>
<rect x="426" y="75" width="3" height="2" fill="#fff"/>
<rect x="435" y="95" width="1" height="3" fill="#000"/>
<rect x="433" y="72" width="5" height="23" fill="#000"/>
<rect x="443" y="91" width="1" height="3" fill="#000"/>
<rect x="443" y="101" width="1" height="7" fill="#000"/>
<rect x="441" y="94" width="5" height="7" fill="#000"/>
<rect x="451" y="84" width="1" height="9" fill="#000"/>
<rect x="451" y="102" width="1" height="7" fill="#000"/>
<rect x="449" y="93" width="5" height="9" fill="#000"/>
<rect x="459" y="98" width="1" height="3" fill="#000"/>
<rect x="459" y="121" width="1" height="2" fill="#000"/>
<rect x="457" y="101" width="5" height="20" fill="#000"/>
<rect x="467" y="108" width="1" height="8" fill="#000"/>
<rect x="467" y="160" width="1" height="4" fill="#000"/>
<rect x="465" y="116" width="5" height="44" fill="#000"/>
<rect x="475" y="154" width="1" height="6" fill="#000"/>
<rect x="475" y="165" width="1" height="6" fill="#000"/>
<rect x="473" y="160" width="5" height="5" fill="#000"/>
<rect x="483" y="155" width="1" height="5" fill="#000"/>
<rect x="483" y="169" width="1" height="18" fill="#000"/>
<rect x="481" y="160" width="5" height="9" fill="#000"/>
<rect x="491" y="167" width="1" height="1" fill="#000"/>
<rect x="491" y="170" width="1" height="9" fill="#000"/>
<rect x="489" y="168" width="5" height="2" fill="#000"/>
<rect x="499" y="168" width="1" height="3" fill="#000"/>
<rect x="499" y="188" width="1" height="8" fill="#000"/>
<rect x="497" y="171" width="5" height="17" fill="#000"/>
<rect x="507" y="174" width="1" height="9" fill="#000"/>
<rect x="507" y="190" width="1" height="2" fill="#000"/>
<rect x="505" y="183" width="5" height="7" fill="#000"/>
<rect x="506" y="184" width="3" height="5" fill="#fff"/>
<rect x="515" y="185" width="1" height="6" fill="#000"/>
<rect x="515" y="196" width="1" height="9" fill="#000"/>
<rect x="513" y="191" width="5" height="5" fill="#000"/>
<rect x="514" y="192" width="3" height="3" fill="#fff"/>
<rect x="523" y="179" width="1" height="7" fill="#000"/>
<rect x="523" y="193" width="1" height="11" fill="#000"/>
<rect x="521" y="186" width="5" height="7" fill="#000"/>
<rect x="522" y="187" width="3" height="5" fill="#fff"/>
<rect x="531" y="188" width="1" height="3" fill="#000"/>
<rect x="531" y="235" width="1" height="3" fill="#000"/>
<rect x="529" y="191" width="5" height="44" fill="#000"/>
<rect x="539" y="234" width="1" height="1" fill="#000"/>
<rect x="539" y="261" width="1" height="2" fill="#000"/>
<rect x="537" y="235" width="5" height="26" fill="#000"/>
<rect x="547" y="239" width="1" height="5" fill="#000"/>
<rect x="547" y="267" width="1" height="16" fill="#000"/>
<rect x="545" y="244" width="5" height="23" fill="#000"/>
<rect x="546" y="245" width="3" height="21" fill="#fff"/>
<rect x="555" y="231" width="1" height="13" fill="#000"/>
<rect x="553" y="244" width="5" height="2" fill="#000"/>
<rect x="563" y="208" width="1" height="6" fill="#000"/>
<rect x="563" y="226" width="1" height="11" fill="#000"/>
<rect x="561" y="214" width="5" height="12" fill="#000"/>
<rect x="571" y="226" width="1" height="8" fill="#000"/>
<rect x="569" y="220" width="5" height="6" fill="#000"/>
<rect x="570" y="221" width="3" height="4" fill="#fff"/>
<rect x="579" y="176" width="1" height="2" fill="#000"/>
<rect x="579" y="212" width="1" height="3" fill="#000"/>
<rect x="577" y="178" width="5" height="34" fill="#000"/>
<rect x="578" y="179" width="3" height="32" fill="#fff"/>
<rect x="587" y="179" width="1" height="1" fill="#000"/>
<rect x="587" y="190" width="1" height="2" fill="#000"/>
<rect x="585" y="180" width="5" height="10" fill="#000"/>
<rect x="595" y="188" width="1" height="7" fill="#000"/>
<rect x="595" y="201" width="1" height="8" fill="#000"/>
<rect x="593" y="195" width="5" height="6" fill="#000"/>
<rect x="603" y="193" width="1" height="5" fill="#000"/>
<rect x="603" y="203" width="1" height="4" fill="#000"/>
<rect x="601" y="198" width="5" height="5" fill="#000"/>
<rect x="602" y="199" width="3" height="3" fill="#fff"/>
<rect x="611" y="161" width="1" height="6" fill="#000"/>
<rect x="609" y="167" width="5" height="43" fill="#000"/>
<rect x="610" y="168" width="3" height="41" fill="#fff"/>
<rect x="619" y="162" width="1" height="5" fill="#000"/>
<rect x="619" y="178" width="1" height="6" fill="#000"/>
<rect x="617" y="167" width="5" height="11" fill="#000"/>
<rect x="627" y="166" width="1" height="4" fill="#000"/>
<rect x="627" y="195" width="1" height="1" fill="#000"/>
<rect x="625" y="170" width="5" height="25" fill="#000"/>
<rect x="626" y="171" width="3" height="23" fill="#fff"/>
<rect x="635" y="158" width="1" height="12" fill="#000"/>
<rect x="635" y="177" width="1" height="1" fill="#000"/>
<rect x="633" y="170" width="5" height="7" fill="#000"/>
<rect x="643" y="200" width="1" height="5" fill="#000"/>
<rect x="643" y="224" width="1" height="13" fill="#000"/>
<rect x="641" y="205" width="5" height="19" fill="#000"/>
<rect x="651" y="218" width="1" height="6" fill="#000"/>
<rect x="651" y="228" width="1" height="4" fill="#000"/>
<rect x="649" y="224" width="5" height="4" fill="#000"/>
<rect x="659" y="221" width="1" height="16" fill="#000"/>
<rect x="659" y="256" width="1" height="4" fill="#000"/>
<rect x="657" y="237" width="5" height="19" fill="#000"/>
<rect x="667" y="240" width="1" height="8" fill="#000"/>
<rect x="667" y="254" width="1" height="6" fill="#000"/>
<rect x="665" y="248" width="5" height="6" fill="#000"/>
<rect x="666" y="249" width="3" height="4" fill="#fff"/>
<rect x="675" y="233" width="1" height="7" fill="#000"/>
<rect x="675" y="257" width="1" height="20" fill="#000"/>
<rect x="673" y="240" width="5" height="17" fill="#000"/>
<rect x="683" y="258" width="1" height="9" fill="#000"/>
<rect x="681" y="248" width="5" height="10" fill="#000"/>
<rect x="682" y="249" width="3" height="8" fill="#fff"/>
<rect x="691" y="199" width="1" height="6" fill="#000"/>
<rect x="691" y="231" width="1" height="1" fill="#000"/>
<rect x="689" y="205" width="5" height="26" fill="#000"/>
<rect x="690" y="206" width="3" height="24" fill="#fff"/>
<rect x="699" y="204" width="1" height="1" fill="#000"/>
<rect x="699" y="206" width="1" height="7" fill="#000"/>
<rect x="697" y="205" width="5" height="1" fill="#000"/>
<rect x="707" y="230" width="1" height="4" fill="#000"/>
<rect x="705" y="204" width="5" height="26" fill="#000"/>
<rect x="715" y="229" width="1" height="1" fill="#000"/>
<rect x="715" y="245" width="1" height="6" fill="#000"/>
<rect x="713" y="230" width="5" height="15" fill="#000"/>
<rect x="723" y="311" width="1" height="7" fill="#000"/>
<rect x="721" y="278" width="5" height="33" fill="#000"/>
<rect x="731" y="349" width="1" height="1" fill="#000"/>
<rect x="729" y="312" width="5" height="37" fill="#000"/>
<rect x="739" y="329" width="1" height="22" fill="#000"/>
<rect x="739" y="364" width="1" height="22" fill="#000"/>
<rect x="737" y="351" width="5" height="13" fill="#000"/>
<rect x="747" y="446" width="1" height="28" fill="#000"/>
<rect x="745" y="364" width="5" height="82" fill="#000"/>
<rect x="755" y="404" width="1" height="20" fill="#000"/>
<rect x="755" y="452" width="1" height="10" fill="#000"/>
<rect x="753" y="424" width="5" height="28" fill="#000"/>
<rect x="763" y="413" width="1" height="10" fill="#000"/>
<rect x="763" y="454" width="1" height="15" fill="#000"/>
<rect x="761" y="423" width="5" height="31" fill="#000"/>
<rect x="762" y="424" width="3" height="29" fill="#fff"/>
<rect x="771" y="346" width="1" height="9" fill="#000"/>
<rect x="771" y="356" width="1" height="27" fill="#000"/>
<rect x="769" y="355" width="5" height="1" fill="#000"/>
<rect x="779" y="336" width="1" height="5" fill="#000"/>
<rect x="779" y="355" width="1" height="4" fill="#000"/>
<rect x="777" y="341" width="5" height="14" fill="#000"/>
<rect x="778" y="342" width="3" height="12" fill="#fff"/>
<rect x="787" y="352" width="1" height="20" fill="#000"/>
<rect x="787" y="389" width="1" height="3" fill="#000"/>
<rect x="785" y="372" width="5" height="17" fill="#000"/>
<rect x="795" y="368" width="1" height="2" fill="#000"/>
<rect x="795" y="394" width="1" height="6" fill="#000"/>
<rect x="793" y="370" width="5" height="24" fill="#000"/>
<rect x="794" y="371" width="3" height="22" fill="#fff"/>
<rect x="803" y="338" width="1" height="10" fill="#000"/>
<rect x="803" y="362" width="1" height="29" fill="#000"/>
<rect x="801" y="348" width="5" height="14" fill="#000"/>
<rect x="802" y="349" width="3" height="12" fill="#fff"/>
<rect x="811" y="338" width="1" height="11" fill="#000"/>
<rect x="811" y="350" width="1" height="6" fill="#000"/>
<rect x="809" y="349" width="5" height="1" fill="#000"/>
<rect x="819" y="345" width="1" height="2" fill="#000"/>
<rect x="819" y="368" width="1" height="20" fill="#000"/>
<rect x="817" y="347" width="5" height="21" fill="#000"/>
<rect x="827" y="342" width="1" height="13" fill="#000"/>
<rect x="825" y="355" width="5" height="12" fill="#000"/>
<rect x="826" y="356" width="3" height="10" fill="#fff"/>
<rect x="835" y="308" width="1" height="2" fill="#000"/>
<rect x="835" y="358" width="1" height="8" fill="#000"/>
<rect x="833" y="310" width="5" height="48" fill="#000"/>
<rect x="834" y="311" width="3" height="46" fill="#fff"/>
<rect x="843" y="328" width="1" height="5" fill="#000"/>
<rect x="841" y="311" width="5" height="17" fill="#000"/>
<rect x="851" y="316" width="1" height="12" fill="#000"/>
<rect x="851" y="333" width="1" height="8" fill="#000"/>
<rect x="849" y="328" width="5" height="5" fill="#000"/>
<rect x="859" y="326" width="1" height="6" fill="#000"/>
<rect x="859" y="350" width="1" height="5" fill="#000"/>
<rect x="857" y="332" width="5" height="18" fill="#000"/>
<rect x="867" y="340" width="1" height="1" fill="#000"/>
<rect x="867" y="348" width="1" height="22" fill="#000"/>
<rect x="865" y="341" width="5" height="7" fill="#000"/>
<rect x="875" y="341" width="1" height="8" fill="#000"/>
<rect x="875" y="350" width="1" height="6" fill="#000"/>
<rect x="873" y="349" width="5" height="1" fill="#000"/>
<rect x="883" y="318" width="1" height="10" fill="#000"/>
<rect x="883" y="369" width="1" height="8" fill="#000"/>
<rect x="881" y="328" width="5" height="41" fill="#000"/>
<rect x="882" y="329" width="3" height="39" fill="#fff"/>
<rect x="891" y="341" width="1" height="4" fill="#000"/>
<rect x="889" y="328" width="5" height="13" fill="#000"/>
<rect x="899" y="323" width="1" height="1" fill="#000"/>
<rect x="899" y="337" width="1" height="21" fill="#000"/>
<rect x="897" y="324" width="5" height="13" fill="#000"/>
<rect x="907" y="313" width="1" height="5" fill="#000"/>
<rect x="905" y="318" width="5" height="19" fill="#000"/>
<rect x="906" y="319" width="3" height="17" fill="#fff"/>
<rect x="915" y="294" width="1" height="16" fill="#000"/>
<rect x="915" y="326" width="1" height="6" fill="#000"/>
<rect x="913" y="310" width="5" height="16" fill="#000"/>
<rect x="914" y="311" width="3" height="14" fill="#fff"/>
<rect x="923" y="308" width="1" height="3" fill="#000"/>
<rect x="923" y="312" width="1" height="5" fill="#000"/>
<rect x="921" y="311" width="5" height="1" fill="#000"/>
<rect x="931" y="304" width="1" height="6" fill="#000"/>
<rect x="931" y="313" width="1" height="9" fill="#000"/>
<rect x="929" y="310" width="5" height="3" fill="#000"/>
<rect x="930" y="311" width="3" height="1" fill="#fff"/>
<rect x="939" y="310" width="1" height="2" fill="#000"/>
<rect x="939" y="324" width="1" height="10" fill="#000"/>
<rect x="937" y="312" width="5" height="12" fill="#000"/>
<rect x="947" y="319" width="1" height="21" fill="#000"/>
<rect x="947" y="342" width="1" height="10" fill="#000"/>
<rect x="945" y="340" width="5" height="2" fill="#000"/>
<rect x="955" y="329" width="1" height="2" fill="#000"/>
<rect x="955" y="339" width="1" height="11" fill="#000"/>
<rect x="953" y="331" width="5" height="8" fill="#000"/>
<rect x="954" y="332" width="3" height="6" fill="#fff"/>
<rect x="963" y="325" width="1" height="2" fill="#000"/>
<rect x="963" y="346" width="1" height="12" fill="#000"/>
<rect x="961" y="327" width="5" height="19" fill="#000"/>
<rect x="971" y="343" width="1" height="3" fill="#000"/>
<rect x="971" y="352" width="1" height="10" fill="#000"/>
<rect x="969" y="346" width="5" height="6" fill="#000"/>
<rect x="979" y="342" width="1" height="10" fill="#000"/>
<rect x="979" y="364" width="1" height="4" fill="#000"/>
<rect x="977" y="352" width="5" height="12" fill="#000"/>
<rect x="987" y="390" width="1" height="12" fill="#000"/>
<rect x="985" y="363" width="5" height="27" fill="#000"/>
<rect x="995" y="368" width="1" height="4" fill="#000"/>
<rect x="995" y="390" width="1" height="1" fill="#000"/>
<rect x="993" y="372" width="5" height="18" fill="#000"/>
<rect x="994" y="373" width="3" height="16" fill="#fff"/>
<rect x="1003" y="364" width="1" height="9" fill="#000"/>
<rect x="1003" y="382" width="1" height="3" fill="#000"/>
<rect x="1001" y="373" width="5" height="9" fill="#000"/>
<rect x="1011" y="379" width="1" height="5" fill="#000"/>
<rect x="1011" y="419" width="1" height="4" fill="#000"/>
<rect x="1009" y="384" width="5" height="35" fill="#000"/>
<rect x="1019" y="402" width="1" height="16" fill="#000"/>
<rect x="1019" y="432" width="1" height="6" fill="#000"/>
<rect x="1017" y="418" width="5" height="14" fill="#000"/>
<rect x="1027" y="418" width="1" height="3" fill="#000"/>
<rect x="1027" y="479" width="1" height="12" fill="#000"/>
<rect x="1025" y="421" width="5" height="58" fill="#000"/>
<rect x="1035" y="456" width="1" height="15" fill="#000"/>
<rect x="1035" y="479" width="1" height="11" fill="#000"/>
<rect x="1033" y="471" width="5" height="8" fill="#000"/>
<rect x="1034" y="472" width="3" height="6" fill="#fff"/>
<rect x="1043" y="411" width="1" height="12" fill="#000"/>
<rect x="1041" y="423" width="5" height="23" fill="#000"/>
<rect x="1042" y="424" width="3" height="21" fill="#fff"/>
<rect x="1051" y="421" width="1" height="2" fill="#000"/>
<rect x="1051" y="444" width="1" height="6" fill="#000"/>
<rect x="1049" y="423" width="5" height="21" fill="#000"/>
<rect x="1059" y="397" width="1" height="11" fill="#000"/>
<rect x="1059" y="416" width="1" height="6" fill="#000"/>
<rect x="1057" y="408" width="5" height="8" fill="#000"/>
<rect x="1058" y="409" width="3" height="6" fill="#fff"/>
<rect x="1067" y="387" width="1" height="6" fill="#000"/>
<rect x="1067" y="409" width="1" height="2" fill="#000"/>
<rect x="1065" y="393" width="5" height="16" fill="#000"/>
<rect x="1066" y="394" width="3" height="14" fill="#fff"/>
<rect x="1075" y="364" width="1" height="20" fill="#000"/>
<rect x="1075" y="396" width="1" height="7" fill="#000"/>
<rect x="1073" y="384" width="5" height="12" fill="#000"/>
<rect x="1083" y="386" width="1" height="4" fill="#000"/>
<rect x="1083" y="396" width="1" height="7" fill="#000"/>
<rect x="1081" y="390" width="5" height="6" fill="#000"/>
<rect x="1082" y="391" width="3" height="4" fill="#fff"/>
<rect x="1091" y="389" width="1" height="10" fill="#000"/>
<rect x="1091" y="423" width="1" height="1" fill="#000"/>
<rect x="1089" y="399" width="5" height="24" fill="#000"/>
<rect x="1099" y="412" width="1" height="1" fill="#000"/>
<rect x="1099" y="423" width="1" height="8" fill="#000"/>
<rect x="1097" y="413" width="5" height="10" fill="#000"/>
<rect x="1098" y="414" width="3" height="8" fill="#fff"/>
<rect x="1107" y="400" width="1" height="12" fill="#000"/>
<rect x="1107" y="428" width="1" height="4" fill="#000"/>
<rect x="1105" y="412" width="5" height="16" fill="#000"/>
<rect x="1106" y="413" width="3" height="14" fill="#fff"/>
<rect x="1115" y="429" width="1" height="3" fill="#000"/>
<rect x="1113" y="412" width="5" height="17" fill="#000"/>
<rect x="1123" y="411" width="1" height="9" fill="#000"/>
<rect x="1123" y="421" width="1" height="23" fill="#000"/>
<rect x="1121" y="420" width="5" height="1" fill="#000"/>
<rect x="1131" y="408" width="1" height="5" fill="#000"/>
<rect x="1131" y="420" width="1" height="9" fill="#000"/>
<rect x="1129" y="413" width="5" height="7" fill="#000"/>
<rect x="1130" y="414" width="3" height="5" fill="#fff"/>
<rect x="1139" y="412" width="1" height="3" fill="#000"/>
<rect x="1139" y="445" width="1" height="5" fill="#000"/>
<rect x="1137" y="415" width="5" height="30" fill="#000"/>
<rect x="1147" y="379" width="1" height="3" fill="#000"/>
<rect x="1145" y="382" width="5" height="60" fill="#000"/>
<rect x="1146" y="383" width="3" height="58" fill="#fff"/>
<rect x="1155" y="362" width="1" height="6" fill="#000"/>
<rect x="1155" y="391" width="1" height="7" fill="#000"/>
<rect x="1153" y="368" width="5" height="23" fill="#000"/>
<rect x="1154" y="369" width="3" height="21" fill="#fff"/>
<rect x="1163" y="362" width="1" height="6" fill="#000"/>
<rect x="1163" y="369" width="1" height="6" fill="#000"/>
<rect x="1161" y="368" width="5" height="1" fill="#000"/>
<rect x="1171" y="336" width="1" height="21" fill="#000"/>
<rect x="1171" y="362" width="1" height="6" fill="#000"/>
<rect x="1169" y="357" width="5" height="5" fill="#000"/>
<rect x="1179" y="355" width="1" height="3" fill="#000"/>
<rect x="1179" y="362" width="1" height="8" fill="#000"/>
<rect x="1177" y="358" width="5" height="4" fill="#000"/>
<rect x="1178" y="359" width="3" height="2" fill="#fff"/>
<rect x="1187" y="362" width="1" height="8" fill="#000"/>
<rect x="1187" y="372" width="1" height="13" fill="#000"/>
<rect x="1185" y="370" width="5" height="2" fill="#000"/>
<rect x="1195" y="370" width="1" height="2" fill="#000"/>
<rect x="1195" y="373" width="1" height="11" fill="#000"/>
<rect x="1193" y="372" width="5" height="1" fill="#000"/>
<rect x="1203" y="357" width="1" height="6" fill="#000"/>
<rect x="1203" y="376" width="1" height="10" fill="#000"/>
<rect x="1201" y="363" width="5" height="13" fill="#000"/>
<rect x="1202" y="364" width="3" height="11" fill="#fff"/>
<rect x="1211" y="350" width="1" height="2" fill="#000"/>
<rect x="1211" y="365" width="1" height="1" fill="#000"/>
<rect x="1209" y="352" width="5" height="13" fill="#000"/>
<rect x="1210" y="353" width="3" height="11" fill="#fff"/>
<rect x="1219" y="327" width="1" height="11" fill="#000"/>
<rect x="1219" y="348" width="1" height="10" fill="#000"/>
<rect x="1217" y="338" width="5" height="10" fill="#000"/>
<rect x="1218" y="339" width="3" height="8" fill="#fff"/>
<rect x="1227" y="324" width="1" height="15" fill="#000"/>
<rect x="1227" y="340" width="1" height="2" fill="#000"/>
<rect x="1225" y="339" width="5" height="1" fill="#000"/>
<rect x="1235" y="317" width="1" height="19" fill="#000"/>
<rect x="1235" y="349" width="1" height="5" fill="#000"/>
<rect x="1233" y="336" width="5" height="13" fill="#000"/>
<rect x="1243" y="338" width="1" height="3" fill="#000"/>
<rect x="1241" y="341" width="5" height="8" fill="#000"/>
<rect x="1242" y="342" width="3" height="6" fill="#fff"/>
<rect x="1251" y="354" width="1" height="14" fill="#000"/>
<rect x="1251" y="374" width="1" height="4" fill="#000"/>
<rect x="1249" y="368" width="5" height="6" fill="#000"/>
<rect x="1259" y="393" width="1" height="6" fill="#000"/>
<rect x="1257" y="374" width="5" height="19" fill="#000"/>
<rect x="1267" y="347" width="1" height="4" fill="#000"/>
<rect x="1267" y="378" width="1" height="4" fill="#000"/>
<rect x="1265" y="351" width="5" height="27" fill="#000"/>
<rect x="1266" y="352" width="3" height="25" fill="#fff"/>
<rect x="1275" y="344" width="1" height="4" fill="#000"/>
<rect x="1275" y="351" width="1" height="6" fill="#000"/>
<rect x="1273" y="348" width="5" height="3" fill="#000"/>
<rect x="1274" y="349" width="3" height="1" fill="#fff"/>
<rect x="1283" y="392" width="1" height="3" fill="#000"/>
<rect x="1281" y="368" width="5" height="24" fill="#000"/>
<rect x="1291" y="378" width="1" height="1" fill="#000"/>
<rect x="1291" y="392" width="1" height="8" fill="#000"/>
<rect x="1289" y="379" width="5" height="13" fill="#000"/>
<rect x="1290" y="380" width="3" height="11" fill="#fff"/>
<rect x="1299" y="370" width="1" height="8" fill="#000"/>
<rect x="1299" y="384" width="1" height="14" fill="#000"/>
<rect x="1297" y="378" width="5" height="6" fill="#000"/>
<rect x="1307" y="382" width="1" height="1" fill="#000"/>
<rect x="1307" y="411" width="1" height="11" fill="#000"/>
<rect x="1305" y="383" width="5" height="28" fill="#000"/>
<rect x="1315" y="414" width="1" height="7" fill="#000"/>
<rect x="1315" y="428" width="1" height="14" fill="#000"/>
<rect x="1313" y="421" width="5" height="7" fill="#000"/>
<rect x="1323" y="425" width="1" height="2" fill="#000"/>
<rect x="1323" y="448" width="1" height="4" fill="#000"/>
<rect x="1321" y="427" width="5" height="21" fill="#000"/>
<rect x="1331" y="446" width="1" height="6" fill="#000"/>
<rect x="1329" y="452" width="5" height="43" fill="#000"/>
<rect x="1339" y="481" width="1" height="3" fill="#000"/>
<rect x="1337" y="484" width="5" height="10" fill="#000"/>
<rect x="1338" y="485" width="3" height="8" fill="#fff"/>
<rect x="1347" y="467" width="1" height="7" fill="#000"/>
<rect x="1347" y="483" width="1" height="22" fill="#000"/>
<rect x="1345" y="474" width="5" height="9" fill="#000"/>
<rect x="1346" y="475" width="3" height="7" fill="#fff"/>
<rect x="1355" y="458" width="1" height="5" fill="#000"/>
<rect x="1355" y="475" width="1" height="6" fill="#000"/>
<rect x="1353" y="463" width="5" height="12" fill="#000"/>
<rect x="1354" y="464" width="3" height="10" fill="#fff"/>
<rect x="1363" y="477" width="1" height="5" fill="#000"/>
<rect x="1363" y="549" width="1" height="8" fill="#000"/>
<rect x="1361" y="482" width="5" height="67" fill="#000"/>
<rect x="1371" y="528" width="1" height="9" fill="#000"/>
<rect x="1371" y="550" width="1" height="1" fill="#000"/>
<rect x="1369" y="537" width="5" height="13" fill="#000"/>
<rect x="1370" y="538" width="3" height="11" fill="#fff"/>
<rect x="1379" y="526" width="1" height="15" fill="#000"/>
<rect x="1379" y="548" width="1" height="14" fill="#000"/>
<rect x="1377" y="541" width="5" height="7" fill="#000"/>
<rect x="1378" y="542" width="3" height="5" fill="#fff"/>
<rect x="1387" y="518" width="1" height="9" fill="#000"/>
<rect x="1387" y="543" width="1" height="9" fill="#000"/>
<rect x="1385" y="527" width="5" height="16" fill="#000"/>
<rect x="1386" y="528" width="3" height="14" fill="#fff"/>
<rect x="1395" y="478" width="1" height="23" fill="#000"/>
<rect x="1395" y="510" width="1" height="2" fill="#000"/>
<rect x="1393" y="501" width="5" height="9" fill="#000"/>
<rect x="1403" y="494" width="1" height="1" fill="#000"/>
<rect x="1403" y="512" width="1" height="5" fill="#000"/>
<rect x="1401" y="495" width="5" height="17" fill="#000"/>
<rect x="1402" y="496" width="3" height="15" fill="#fff"/>
<rect x="1411" y="488" width="1" height="11" fill="#000"/>
<rect x="1411" y="512" width="1" height="4" fill="#000"/>
<rect x="1409" y="499" width="5" height="13" fill="#000"/>
<rect x="1410" y="500" width="3" height="11" fill="#fff"/>
<rect x="1419" y="496" width="1" height="4" fill="#000"/>
<rect x="1419" y="527" width="1" height="13" fill="#000"/>
<rect x="1417" y="500" width="5" height="27" fill="#000"/>
<rect x="1427" y="498" width="1" height="20" fill="#000"/>
<rect x="1425" y="518" width="5" height="24" fill="#000"/>
<rect x="1426" y="519" width="3" height="22" fill="#fff"/>
<rect x="1435" y="510" width="1" height="9" fill="#000"/>
<rect x="1435" y="527" width="1" height="5" fill="#000"/>
<rect x="1433" y="519" width="5" height="8" fill="#000"/>
</g>
<rect x="844.5" y="285.5" width="61" height="18" fill="#fff" stroke="#ff0000" stroke-width="1" shape-rendering="crispEdges"/>
<g shape-rendering="crispEdges"><rect x="906" y="294" width="10" height="1" fill="#ff0000"/></g>
<text x="875.0" y="300.228" fill="#ff0000" text-anchor="middle" style='font-family:"Liberation Sans", sans-serif;font-size:16px;font-weight:normal;' >26718.2</text>
<g shape-rendering="crispEdges"><rect x="915" y="294" width="1" height="3" fill="#000"/></g>
<rect x="1164.5" y="308.5" width="61" height="18" fill="#fff" stroke="#ff0000" stroke-width="1" shape-rendering="crispEdges"/>
<g shape-rendering="crispEdges"><rect x="1226" y="317" width="10" height="1" fill="#ff0000"/></g>
<text x="1195.0" y="323.228" fill="#ff0000" text-anchor="middle" style='font-family:"Liberation Sans", sans-serif;font-size:16px;font-weight:normal;' >26466.9</text>
<g shape-rendering="crispEdges"><rect x="1235" y="317" width="1" height="4" fill="#000"/></g>
<rect x="956.5" y="482.5" width="61" height="18" fill="#fff" stroke="#ff0000" stroke-width="1" shape-rendering="crispEdges"/>
<g shape-rendering="crispEdges"><rect x="1018" y="491" width="10" height="1" fill="#ff0000"/></g>
<text x="987.0" y="497.228" fill="#ff0000" text-anchor="middle" style='font-family:"Liberation Sans", sans-serif;font-size:16px;font-weight:normal;' >24551.7</text>
<rect x="1238.5" y="498.5" width="73" height="24" fill="#fff" stroke="#ff0000" stroke-width="1" shape-rendering="crispEdges"/>
<g shape-rendering="crispEdges"><rect x="1228" y="510" width="10" height="1" fill="#ff0000"/></g>
<text x="1275.0" y="517.481" fill="#ff0000" text-anchor="middle" style='font-family:"Liberation Sans", sans-serif;font-size:19.5px;font-weight:normal;' >24349.4</text>
<rect x="1308.5" y="553.5" width="61" height="18" fill="#fff" stroke="#ff0000" stroke-width="1" shape-rendering="crispEdges"/>
<g shape-rendering="crispEdges"><rect x="1370" y="562" width="10" height="1" fill="#ff0000"/></g>
<text x="1339.0" y="568.228" fill="#ff0000" text-anchor="middle" style='font-family:"Liberation Sans", sans-serif;font-size:16px;font-weight:normal;' >23777.4</text>
<g>
<line x1="1260.5" y1="342.0" x2="1370.5" y2="559.0" stroke="#ff0000" stroke-width="3.2" stroke-linecap="round"/>
<polygon points="1374.0,567.0 1364.1,558.6 1373.0,554.0" fill="#ff0000"/>
<line x1="1374.0" y1="563.0" x2="1392.0" y2="478.0" stroke="#ff0000" stroke-width="3.2" stroke-linecap="round"/>
<polygon points="1393.5,469.0 1396.2,480.8 1386.4,478.8" fill="#ff0000"/>
<line x1="1394.0" y1="472.0" x2="1443.0" y2="538.0" stroke="#ff0000" stroke-width="3.2" stroke-linecap="round"/>
<polygon points="1450.0,547.5 1438.5,541.0 1447.4,534.6" fill="#ff0000"/>
</g>
<g shape-rendering="crispEdges">
<rect x="1333" y="505" width="142" height="11" fill="#00ff00"/>
<rect x="1331" y="513" width="12" height="5" fill="#00ff00"/>
<rect x="1335" y="516" width="8" height="3" fill="#00ff00"/>
<polygon points="1468,505 1469,501 1471,505 1474,502 1478,501 1476,506 1474,512 1473,516 1470,516" fill="#00ff00"/>
</g>
<polyline points="1494.5,519.3 1486.5,525.6" fill="none" stroke="#00ff00" stroke-width="1.15" stroke-linejoin="round"/>
<polyline points="1493.0,522.2 1502.0,522.2 1493.9,527.4" fill="none" stroke="#00ff00" stroke-width="1.15" stroke-linejoin="round"/>
<polyline points="1491.6,524.2 1494.2,527.8" fill="none" stroke="#00ff00" stroke-width="1.15" stroke-linejoin="round"/>
<polyline points="1486.0,529.3 1490.5,529.3" fill="none" stroke="#00ff00" stroke-width="1.15" stroke-linejoin="round"/>
<polyline points="1495.5,528.3 1487.2,533.7" fill="none" stroke="#00ff00" stroke-width="1.15" stroke-linejoin="round"/>
<polyline points="1494.0,530.4 1503.0,530.4 1486.0,537.6" fill="none" stroke="#00ff00" stroke-width="1.15" stroke-linejoin="round"/>
<polyline points="1492.4,532.6 1494.4,535.4" fill="none" stroke="#00ff00" stroke-width="1.15" stroke-linejoin="round"/>
<polyline points="1515.2,519.2 1517.0,521.5" fill="none" stroke="#00ff00" stroke-width="1.15" stroke-linejoin="round"/>
<polyline points="1509.0,524.8 1509.4,522.2 1525.0,522.2 1524.6,524.2" fill="none" stroke="#00ff00" stroke-width="1.15" stroke-linejoin="round"/>
<polyline points="1514.0,524.5 1508.5,528.8" fill="none" stroke="#00ff00" stroke-width="1.15" stroke-linejoin="round"/>
<polyline points="1518.0,524.3 1523.5,527.8" fill="none" stroke="#00ff00" stroke-width="1.15" stroke-linejoin="round"/>
<polyline points="1510.5,529.6 1522.5,529.6" fill="none" stroke="#00ff00" stroke-width="1.15" stroke-linejoin="round"/>
<polyline points="1516.5,529.6 1516.5,536.5" fill="none" stroke="#00ff00" stroke-width="1.15" stroke-linejoin="round"/>
<polyline points="1507.5,536.5 1525.5,536.5" fill="none" stroke="#00ff00" stroke-width="1.15" stroke-linejoin="round"/>
<polyline points="1529.0,522.6 1536.5,522.6" fill="none" stroke="#00ff00" stroke-width="1.15" stroke-linejoin="round"/>
<polyline points="1533.2,519.5 1530.4,527.6 1536.0,527.6" fill="none" stroke="#00ff00" stroke-width="1.15" stroke-linejoin="round"/>
<polyline points="1533.5,524.5 1533.5,537.8" fill="none" stroke="#00ff00" stroke-width="1.15" stroke-linejoin="round"/>
<polyline points="1528.8,533.6 1537.0,531.6" fill="none" stroke="#00ff00" stroke-width="1.15" stroke-linejoin="round"/>
<polyline points="1538.0,523.6 1546.0,523.6" fill="none" stroke="#00ff00" stroke-width="1.15" stroke-linejoin="round"/>
<polyline points="1542.6,519.5 1540.2,530.5" fill="none" stroke="#00ff00" stroke-width="1.15" stroke-linejoin="round"/>
<polyline points="1536.5,527.5 1546.5,527.5" fill="none" stroke="#00ff00" stroke-width="1.15" stroke-linejoin="round"/>
<polyline points="1538.2,530.6 1545.5,530.6 1540.5,533.8" fill="none" stroke="#00ff00" stroke-width="1.15" stroke-linejoin="round"/>
<polyline points="1539.2,533.2 1544.6,537.5" fill="none" stroke="#00ff00" stroke-width="1.15" stroke-linejoin="round"/>
<polyline points="1551.0,524.6 1558.5,524.6" fill="none" stroke="#00ff00" stroke-width="1.15" stroke-linejoin="round"/>
<polyline points="1555.6,519.5 1555.6,537.4 1553.0,536.4" fill="none" stroke="#00ff00" stroke-width="1.15" stroke-linejoin="round"/>
<polyline points="1551.5,531.6 1558.5,527.6" fill="none" stroke="#00ff00" stroke-width="1.15" stroke-linejoin="round"/>
<polyline points="1568.5,520.0 1561.0,522.2" fill="none" stroke="#00ff00" stroke-width="1.15" stroke-linejoin="round"/>
<polyline points="1561.0,522.2 1561.0,530.0 1557.6,537.6" fill="none" stroke="#00ff00" stroke-width="1.15" stroke-linejoin="round"/>
<polyline points="1561.0,526.6 1570.0,526.6" fill="none" stroke="#00ff00" stroke-width="1.15" stroke-linejoin="round"/>
<polyline points="1565.6,526.6 1565.6,537.6" fill="none" stroke="#00ff00" stroke-width="1.15" stroke-linejoin="round"/>
<polyline points="1582.6,519.5 1582.6,526.0" fill="none" stroke="#00ff00" stroke-width="1.15" stroke-linejoin="round"/>
<polyline points="1582.6,522.6 1590.5,522.6" fill="none" stroke="#00ff00" stroke-width="1.15" stroke-linejoin="round"/>
<polyline points="1577.0,526.0 1588.0,526.0 1588.0,531.6 1577.0,531.6 1577.0,526.0" fill="none" stroke="#00ff00" stroke-width="1.15" stroke-linejoin="round"/>
<polyline points="1577.0,533.5 1574.6,537.5" fill="none" stroke="#00ff00" stroke-width="1.15" stroke-linejoin="round"/>
<polyline points="1580.0,534.0 1581.0,536.6" fill="none" stroke="#00ff00" stroke-width="1.15" stroke-linejoin="round"/>
<polyline points="1584.6,534.0 1586.0,536.6" fill="none" stroke="#00ff00" stroke-width="1.15" stroke-linejoin="round"/>
<polyline points="1589.0,533.5 1591.0,536.6" fill="none" stroke="#00ff00" stroke-width="1.15" stroke-linejoin="round"/>
<rect x="1484.5" y="517.5" width="110" height="23" fill="none" stroke="#333" stroke-width="1" shape-rendering="crispEdges"/>
<g shape-rendering="crispEdges">
<rect x="0" y="23" width="1655" height="1" fill="#000"/>
<rect x="1654" y="23" width="1" height="554" fill="#000"/>
<rect x="0" y="576" width="1655" height="1" fill="#000"/>
<rect x="0" y="578" width="1655" height="1" fill="#000"/>
<rect x="1654" y="578" width="1" height="171" fill="#000"/>
<rect x="0" y="748" width="1655" height="1" fill="#000"/>
<rect x="0" y="750" width="1655" height="1" fill="#000"/>
<rect x="1654" y="750" width="1" height="175" fill="#000"/>
<rect x="0" y="924" width="1655" height="1" fill="#000"/>
<rect x="1700" y="21" width="1" height="923" fill="#dcdcdc"/>
</g>
<polygon points="1433,24 1442,24 1437.5,28.8" fill="#c0c0c0"/>
<g clip-path="url(#cmacd)" shape-rendering="crispEdges">
<rect x="3" y="627" width="1" height="18" fill="#c0c0c0"/>
<rect x="11" y="627" width="1" height="14" fill="#c0c0c0"/>
<rect x="19" y="627" width="1" height="11" fill="#c0c0c0"/>
<rect x="27" y="627" width="1" height="10" fill="#c0c0c0"/>
<rect x="35" y="627" width="1" height="6" fill="#c0c0c0"/>
<rect x="43" y="627" width="1" height="5" fill="#c0c0c0"/>
<rect x="51" y="627" width="1" height="4" fill="#c0c0c0"/>
<rect x="59" y="625" width="1" height="3" fill="#c0c0c0"/>
<rect x="67" y="617" width="1" height="11" fill="#c0c0c0"/>
<rect x="75" y="608" width="1" height="20" fill="#c0c0c0"/>
<rect x="83" y="601" width="1" height="27" fill="#c0c0c0"/>
<rect x="91" y="597" width="1" height="31" fill="#c0c0c0"/>
<rect x="99" y="594" width="1" height="34" fill="#c0c0c0"/>
<rect x="107" y="591" width="1" height="37" fill="#c0c0c0"/>
<rect x="115" y="590" width="1" height="38" fill="#c0c0c0"/>
<rect x="123" y="592" width="1" height="36" fill="#c0c0c0"/>
<rect x="131" y="593" width="1" height="35" fill="#c0c0c0"/>
<rect x="139" y="592" width="1" height="36" fill="#c0c0c0"/>
<rect x="147" y="588" width="1" height="40" fill="#c0c0c0"/>
<rect x="155" y="588" width="1" height="40" fill="#c0c0c0"/>
<rect x="163" y="590" width="1" height="38" fill="#c0c0c0"/>
<rect x="171" y="592" width="1" height="36" fill="#c0c0c0"/>
<rect x="179" y="597" width="1" height="31" fill="#c0c0c0"/>
<rect x="187" y="600" width="1" height="28" fill="#c0c0c0"/>
<rect x="195" y="605" width="1" height="23" fill="#c0c0c0"/>
<rect x="203" y="611" width="1" height="17" fill="#c0c0c0"/>
<rect x="211" y="615" width="1" height="13" fill="#c0c0c0"/>
<rect x="219" y="619" width="1" height="9" fill="#c0c0c0"/>
<rect x="227" y="622" width="1" height="6" fill="#c0c0c0"/>
<rect x="235" y="624" width="1" height="4" fill="#c0c0c0"/>
<rect x="243" y="626" width="1" height="2" fill="#c0c0c0"/>
<rect x="251" y="626" width="1" height="2" fill="#c0c0c0"/>
<rect x="283" y="627" width="1" height="2" fill="#c0c0c0"/>
<rect x="291" y="627" width="1" height="6" fill="#c0c0c0"/>
<rect x="299" y="627" width="1" height="7" fill="#c0c0c0"/>
<rect x="307" y="627" width="1" height="11" fill="#c0c0c0"/>
<rect x="315" y="627" width="1" height="14" fill="#c0c0c0"/>
<rect x="323" y="627" width="1" height="15" fill="#c0c0c0"/>
<rect x="331" y="627" width="1" height="11" fill="#c0c0c0"/>
<rect x="339" y="627" width="1" height="9" fill="#c0c0c0"/>
<rect x="347" y="627" width="1" height="11" fill="#c0c0c0"/>
<rect x="355" y="627" width="1" height="13" fill="#c0c0c0"/>
<rect x="363" y="627" width="1" height="13" fill="#c0c0c0"/>
<rect x="371" y="627" width="1" height="18" fill="#c0c0c0"/>
<rect x="379" y="627" width="1" height="13" fill="#c0c0c0"/>
<rect x="387" y="627" width="1" height="9" fill="#c0c0c0"/>
<rect x="395" y="627" width="1" height="5" fill="#c0c0c0"/>
<rect x="411" y="623" width="1" height="5" fill="#c0c0c0"/>
<rect x="419" y="617" width="1" height="11" fill="#c0c0c0"/>
<rect x="427" y="613" width="1" height="15" fill="#c0c0c0"/>
<rect x="435" y="612" width="1" height="16" fill="#c0c0c0"/>
<rect x="443" y="613" width="1" height="15" fill="#c0c0c0"/>
<rect x="451" y="614" width="1" height="14" fill="#c0c0c0"/>
<rect x="459" y="618" width="1" height="10" fill="#c0c0c0"/>
<rect x="475" y="627" width="1" height="7" fill="#c0c0c0"/>
<rect x="483" y="627" width="1" height="13" fill="#c0c0c0"/>
<rect x="491" y="627" width="1" height="19" fill="#c0c0c0"/>
<rect x="499" y="627" width="1" height="25" fill="#c0c0c0"/>
<rect x="507" y="627" width="1" height="30" fill="#c0c0c0"/>
<rect x="515" y="627" width="1" height="34" fill="#c0c0c0"/>
<rect x="523" y="627" width="1" height="36" fill="#c0c0c0"/>
<rect x="531" y="627" width="1" height="44" fill="#c0c0c0"/>
<rect x="539" y="627" width="1" height="55" fill="#c0c0c0"/>
<rect x="547" y="627" width="1" height="59" fill="#c0c0c0"/>
<rect x="555" y="627" width="1" height="63" fill="#c0c0c0"/>
<rect x="563" y="627" width="1" height="62" fill="#c0c0c0"/>
<rect x="571" y="627" width="1" height="59" fill="#c0c0c0"/>
<rect x="579" y="627" width="1" height="50" fill="#c0c0c0"/>
<rect x="587" y="627" width="1" height="44" fill="#c0c0c0"/>
<rect x="595" y="627" width="1" height="41" fill="#c0c0c0"/>
<rect x="603" y="627" width="1" height="38" fill="#c0c0c0"/>
<rect x="611" y="627" width="1" height="30" fill="#c0c0c0"/>
<rect x="619" y="627" width="1" height="25" fill="#c0c0c0"/>
<rect x="627" y="627" width="1" height="19" fill="#c0c0c0"/>
<rect x="635" y="627" width="1" height="16" fill="#c0c0c0"/>
<rect x="643" y="627" width="1" height="20" fill="#c0c0c0"/>
<rect x="651" y="627" width="1" height="24" fill="#c0c0c0"/>
<rect x="659" y="627" width="1" height="31" fill="#c0c0c0"/>
<rect x="667" y="627" width="1" height="35" fill="#c0c0c0"/>
<rect x="675" y="627" width="1" height="39" fill="#c0c0c0"/>
<rect x="683" y="627" width="1" height="40" fill="#c0c0c0"/>
<rect x="691" y="627" width="1" height="34" fill="#c0c0c0"/>
<rect x="699" y="627" width="1" height="29" fill="#c0c0c0"/>
<rect x="707" y="627" width="1" height="29" fill="#c0c0c0"/>
<rect x="715" y="627" width="1" height="29" fill="#c0c0c0"/>
<rect x="723" y="627" width="1" height="41" fill="#c0c0c0"/>
<rect x="731" y="627" width="1" height="55" fill="#c0c0c0"/>
<rect x="739" y="627" width="1" height="67" fill="#c0c0c0"/>
<rect x="747" y="627" width="1" height="89" fill="#c0c0c0"/>
<rect x="755" y="627" width="1" height="105" fill="#c0c0c0"/>
<rect x="763" y="627" width="1" height="112" fill="#c0c0c0"/>
<rect x="771" y="627" width="1" height="107" fill="#c0c0c0"/>
<rect x="779" y="627" width="1" height="99" fill="#c0c0c0"/>
<rect x="787" y="627" width="1" height="99" fill="#c0c0c0"/>
<rect x="795" y="627" width="1" height="95" fill="#c0c0c0"/>
<rect x="803" y="627" width="1" height="87" fill="#c0c0c0"/>
<rect x="811" y="627" width="1" height="81" fill="#c0c0c0"/>
<rect x="819" y="627" width="1" height="78" fill="#c0c0c0"/>
<rect x="827" y="627" width="1" height="72" fill="#c0c0c0"/>
<rect x="835" y="627" width="1" height="60" fill="#c0c0c0"/>
<rect x="843" y="627" width="1" height="53" fill="#c0c0c0"/>
<rect x="851" y="627" width="1" height="47" fill="#c0c0c0"/>
<rect x="859" y="627" width="1" height="45" fill="#c0c0c0"/>
<rect x="867" y="627" width="1" height="42" fill="#c0c0c0"/>
<rect x="875" y="627" width="1" height="40" fill="#c0c0c0"/>
<rect x="883" y="627" width="1" height="33" fill="#c0c0c0"/>
<rect x="891" y="627" width="1" height="31" fill="#c0c0c0"/>
<rect x="899" y="627" width="1" height="28" fill="#c0c0c0"/>
<rect x="907" y="627" width="1" height="23" fill="#c0c0c0"/>
<rect x="915" y="627" width="1" height="17" fill="#c0c0c0"/>
<rect x="923" y="627" width="1" height="11" fill="#c0c0c0"/>
<rect x="931" y="627" width="1" height="9" fill="#c0c0c0"/>
<rect x="939" y="627" width="1" height="8" fill="#c0c0c0"/>
<rect x="947" y="627" width="1" height="9" fill="#c0c0c0"/>
<rect x="955" y="627" width="1" height="9" fill="#c0c0c0"/>
<rect x="963" y="627" width="1" height="11" fill="#c0c0c0"/>
<rect x="971" y="627" width="1" height="12" fill="#c0c0c0"/>
<rect x="979" y="627" width="1" height="17" fill="#c0c0c0"/>
<rect x="987" y="627" width="1" height="23" fill="#c0c0c0"/>
<rect x="995" y="627" width="1" height="25" fill="#c0c0c0"/>
<rect x="1003" y="627" width="1" height="28" fill="#c0c0c0"/>
<rect x="1011" y="627" width="1" height="35" fill="#c0c0c0"/>
<rect x="1019" y="627" width="1" height="43" fill="#c0c0c0"/>
<rect x="1027" y="627" width="1" height="55" fill="#c0c0c0"/>
<rect x="1035" y="627" width="1" height="63" fill="#c0c0c0"/>
<rect x="1043" y="627" width="1" height="61" fill="#c0c0c0"/>
<rect x="1051" y="627" width="1" height="62" fill="#c0c0c0"/>
<rect x="1059" y="627" width="1" height="57" fill="#c0c0c0"/>
<rect x="1067" y="627" width="1" height="50" fill="#c0c0c0"/>
<rect x="1075" y="627" width="1" height="44" fill="#c0c0c0"/>
<rect x="1083" y="627" width="1" height="38" fill="#c0c0c0"/>
<rect x="1091" y="627" width="1" height="38" fill="#c0c0c0"/>
<rect x="1099" y="627" width="1" height="36" fill="#c0c0c0"/>
<rect x="1107" y="627" width="1" height="34" fill="#c0c0c0"/>
<rect x="1115" y="627" width="1" height="35" fill="#c0c0c0"/>
<rect x="1123" y="627" width="1" height="33" fill="#c0c0c0"/>
<rect x="1131" y="627" width="1" height="31" fill="#c0c0c0"/>
<rect x="1139" y="627" width="1" height="33" fill="#c0c0c0"/>
<rect x="1147" y="627" width="1" height="26" fill="#c0c0c0"/>
<rect x="1155" y="627" width="1" height="17" fill="#c0c0c0"/>
<rect x="1163" y="627" width="1" height="10" fill="#c0c0c0"/>
<rect x="1171" y="627" width="1" height="4" fill="#c0c0c0"/>
<rect x="1179" y="626" width="1" height="2" fill="#c0c0c0"/>
<rect x="1187" y="624" width="1" height="4" fill="#c0c0c0"/>
<rect x="1195" y="622" width="1" height="6" fill="#c0c0c0"/>
<rect x="1203" y="620" width="1" height="8" fill="#c0c0c0"/>
<rect x="1211" y="616" width="1" height="12" fill="#c0c0c0"/>
<rect x="1219" y="611" width="1" height="17" fill="#c0c0c0"/>
<rect x="1227" y="608" width="1" height="20" fill="#c0c0c0"/>
<rect x="1235" y="607" width="1" height="21" fill="#c0c0c0"/>
<rect x="1243" y="605" width="1" height="23" fill="#c0c0c0"/>
<rect x="1251" y="609" width="1" height="19" fill="#c0c0c0"/>
<rect x="1259" y="615" width="1" height="13" fill="#c0c0c0"/>
<rect x="1267" y="613" width="1" height="15" fill="#c0c0c0"/>
<rect x="1275" y="612" width="1" height="16" fill="#c0c0c0"/>
<rect x="1283" y="618" width="1" height="10" fill="#c0c0c0"/>
<rect x="1291" y="620" width="1" height="8" fill="#c0c0c0"/>
<rect x="1299" y="623" width="1" height="5" fill="#c0c0c0"/>
<rect x="1307" y="627" width="1" height="2" fill="#c0c0c0"/>
<rect x="1315" y="627" width="1" height="10" fill="#c0c0c0"/>
<rect x="1323" y="627" width="1" height="18" fill="#c0c0c0"/>
<rect x="1331" y="627" width="1" height="31" fill="#c0c0c0"/>
<rect x="1339" y="627" width="1" height="41" fill="#c0c0c0"/>
<rect x="1347" y="627" width="1" height="46" fill="#c0c0c0"/>
<rect x="1355" y="627" width="1" height="47" fill="#c0c0c0"/>
<rect x="1363" y="627" width="1" height="59" fill="#c0c0c0"/>
<rect x="1371" y="627" width="1" height="68" fill="#c0c0c0"/>
<rect x="1379" y="627" width="1" height="76" fill="#c0c0c0"/>
<rect x="1387" y="627" width="1" height="78" fill="#c0c0c0"/>
<rect x="1395" y="627" width="1" height="76" fill="#c0c0c0"/>
<rect x="1403" y="627" width="1" height="71" fill="#c0c0c0"/>
<rect x="1411" y="627" width="1" height="67" fill="#c0c0c0"/>
<rect x="1419" y="627" width="1" height="67" fill="#c0c0c0"/>
<rect x="1427" y="627" width="1" height="67" fill="#c0c0c0"/>
<rect x="1435" y="627" width="1" height="66" fill="#c0c0c0"/>
<polyline points="0.5,663.0 8.5,662.0 15.5,659.4 20.5,657.2 27.5,654.1 33.5,651.0 39.5,648.4 45.5,645.3 51.5,642.3 57.5,639.4 63.5,636.3 69.5,633.1 75.5,630.1 81.5,626.7 87.5,623.4 93.5,620.1 99.5,616.7 105.5,612.9 111.5,609.1 117.5,605.1 123.5,601.9 130.5,598.6 140.5,594.8 160.5,591.2 180.5,591.2 195.5,593.5 210.5,597.1 225.5,604.7 240.5,611.5 254.5,617.7 272.5,622.7 290.5,627.8 308.5,631.7 326.5,635.0 344.5,637.5 362.5,639.8 376.9,641.1 394.9,640.4 407.5,637.5 423.8,631.7 434.5,628.1 452.5,620.5 463.4,617.9 476.5,618.8 490.5,622.7 508.5,633.5 526.5,646.1 544.5,660.5 562.5,672.2 580.5,678.9 598.5,680.7 609.3,678.5 625.5,670.4 643.5,659.6 661.5,654.8 670.5,653.7 688.5,656.0 712.5,658.7 726.5,663.2 744.5,672.2 762.5,689.3 780.5,707.3 793.1,718.1 809.3,724.5 820.1,723.2 834.5,715.4 852.5,701.9 870.5,688.5 888.5,677.6 906.5,665.0 924.5,656.9 948.5,646.5 962.5,641.1 971.5,639.8 989.5,640.4 998.5,642.2 1016.5,650.6 1034.5,660.2 1052.5,672.2 1070.5,678.9 1084.9,681.2 1106.5,676.7 1124.5,669.2 1142.5,662.7 1160.5,656.0 1184.5,646.1 1198.5,637.1 1216.5,626.7 1234.5,618.2 1243.5,614.6 1256.1,611.5 1270.5,611.0 1292.1,611.5 1306.5,614.6 1320.9,621.8 1333.5,629.9 1351.5,646.1 1369.5,662.3 1387.5,679.4 1402.0,689.3 1420.0,695.6 1435.5,698.9" fill="none" stroke="#ff0000" stroke-width="1" stroke-linejoin="bevel" stroke-dasharray="3 3"/>
</g>
<text x="0" y="591" fill="#000" text-anchor="start" style='font-family:"Liberation Sans", sans-serif;font-size:9.5px;font-weight:normal;letter-spacing:-0.11px;' >MACD(12,26,9) -379.01 -409.73</text>
<g clip-path="url(#crsi)" shape-rendering="crispEdges">
<line x1="2" y1="786.5" x2="1654" y2="786.5" stroke="#c0c0c0" stroke-width="1" stroke-dasharray="3 3"/>
<line x1="2" y1="837.5" x2="1654" y2="837.5" stroke="#c0c0c0" stroke-width="1" stroke-dasharray="3 3"/>
<line x1="2" y1="898.5" x2="1654" y2="898.5" stroke="#c0c0c0" stroke-width="1" stroke-dasharray="3 3"/>
<polyline points="-4.5,829.9 3.5,829.9 11.5,836.6 19.5,837.0 27.5,837.9 35.5,834.9 43.5,838.9 51.5,834.7 59.5,819.3 67.5,814.6 75.5,809.1 83.5,806.6 91.5,815.8 99.5,813.7 107.5,809.8 115.5,820.9 123.5,826.8 131.5,823.9 139.5,816.2 147.5,811.2 155.5,820.1 163.5,822.8 171.5,826.2 179.5,835.8 187.5,833.9 195.5,838.4 203.5,847.2 211.5,841.1 219.5,847.2 227.5,843.0 235.5,843.0 243.5,841.9 251.5,837.7 259.5,847.2 267.5,837.0 275.5,835.8 283.5,850.1 291.5,851.7 299.5,852.2 307.5,857.8 315.5,853.8 323.5,852.7 331.5,838.4 339.5,833.1 347.5,852.7 355.5,849.0 363.5,850.1 371.5,858.9 379.5,835.2 387.5,832.1 395.5,829.4 403.5,827.8 411.5,817.8 419.5,815.8 427.5,815.8 435.5,828.9 443.5,832.8 451.5,832.8 459.5,841.6 467.5,860.7 475.5,862.8 483.5,863.8 491.5,864.9 499.5,871.6 507.5,868.1 515.5,870.9 523.5,866.7 531.5,881.9 539.5,886.8 547.5,877.1 555.5,877.1 563.5,864.2 571.5,861.2 579.5,840.0 587.5,844.5 595.5,849.0 603.5,846.9 611.5,833.1 619.5,837.9 627.5,834.9 635.5,837.4 643.5,855.9 651.5,857.0 659.5,865.2 667.5,862.0 675.5,865.2 683.5,859.1 691.5,840.0 699.5,840.0 707.5,849.8 715.5,853.6 723.5,871.3 731.5,877.9 739.5,879.7 747.5,890.9 755.5,890.9 763.5,879.2 771.5,856.4 779.5,852.7 787.5,860.7 795.5,856.4 803.5,850.1 811.5,850.1 819.5,853.6 827.5,849.8 835.5,837.9 843.5,841.6 851.5,843.4 859.5,847.6 867.5,847.2 875.5,848.0 883.5,840.0 891.5,844.0 899.5,843.2 907.5,835.6 915.5,833.9 923.5,833.9 931.5,833.9 939.5,840.0 947.5,845.5 955.5,841.6 963.5,848.0 971.5,850.8 979.5,853.8 987.5,863.8 995.5,855.0 1003.5,858.0 1011.5,868.6 1019.5,871.8 1027.5,881.9 1035.5,877.3 1043.5,856.1 1051.5,860.7 1059.5,846.4 1067.5,843.2 1075.5,843.0 1083.5,840.9 1091.5,851.1 1099.5,848.0 1107.5,846.9 1115.5,852.9 1123.5,849.0 1131.5,845.8 1139.5,856.1 1147.5,833.6 1155.5,829.2 1163.5,829.2 1171.5,827.1 1179.5,826.0 1187.5,832.1 1195.5,832.8 1203.5,828.9 1211.5,825.0 1219.5,820.1 1227.5,820.1 1235.5,826.0 1243.5,822.8 1251.5,837.9 1259.5,846.9 1267.5,829.9 1275.5,829.2 1283.5,845.8 1291.5,841.1 1299.5,841.9 1307.5,852.7 1315.5,856.7 1323.5,861.7 1331.5,872.9 1339.5,867.6 1347.5,863.3 1355.5,859.1 1363.5,876.9 1371.5,872.0 1379.5,872.8 1387.5,866.5 1395.5,858.0 1403.5,854.1 1411.5,854.8 1419.5,861.9 1427.5,858.7 1435.5,860.8" fill="none" stroke="#1e90ff" stroke-width="1" stroke-linejoin="bevel" />
</g>
<text x="-0.7" y="763" fill="#000" text-anchor="start" style='font-family:"Liberation Sans", sans-serif;font-size:9.5px;font-weight:normal;letter-spacing:-0.2px;' >RSI(14) 37.1461</text>
<g>
<line x1="1285.0" y1="599.5" x2="1366.0" y2="689.0" stroke="#ff0000" stroke-width="3" stroke-linecap="round"/>
<polygon points="1371.0,695.0 1361.0,690.6 1367.6,684.6" fill="#ff0000"/>
<line x1="1369.0" y1="692.0" x2="1419.0" y2="692.0" stroke="#ff0000" stroke-width="3" stroke-linecap="round"/>
<polygon points="1428.0,692.0 1418.0,696.5 1418.0,687.5" fill="#ff0000"/>
<polygon points="1364.0,692.0 1370.0,688.5 1370.0,695.5" fill="#ff0000"/>
<line x1="1350.0" y1="866.5" x2="1427.0" y2="868.0" stroke="#ff0000" stroke-width="3" stroke-linecap="round"/>
<polygon points="1436.5,868.5 1425.5,873.3 1425.5,863.7" fill="#ff0000"/>
</g>
<g shape-rendering="crispEdges">
<rect x="1655" y="45" width="2" height="1" fill="#000"/>
<rect x="1655" y="78" width="2" height="1" fill="#000"/>
<rect x="1655" y="111" width="2" height="1" fill="#000"/>
<rect x="1655" y="144" width="2" height="1" fill="#000"/>
<rect x="1655" y="177" width="2" height="1" fill="#000"/>
<rect x="1655" y="210" width="2" height="1" fill="#000"/>
<rect x="1655" y="243" width="2" height="1" fill="#000"/>
<rect x="1655" y="276" width="2" height="1" fill="#000"/>
<rect x="1655" y="309" width="2" height="1" fill="#000"/>
<rect x="1655" y="342" width="2" height="1" fill="#000"/>
<rect x="1655" y="375" width="2" height="1" fill="#000"/>
<rect x="1655" y="408" width="2" height="1" fill="#000"/>
<rect x="1655" y="441" width="2" height="1" fill="#000"/>
<rect x="1655" y="474" width="2" height="1" fill="#000"/>
<rect x="1655" y="507" width="2" height="1" fill="#000"/>
<rect x="1655" y="540" width="2" height="1" fill="#000"/>
<rect x="1655" y="573" width="2" height="1" fill="#000"/>
</g>
<text x="1660" y="48.5" fill="#000" text-anchor="start" style='font-family:"Liberation Sans", sans-serif;font-size:9.5px;font-weight:normal;letter-spacing:-0.25px;' >29453.5</text>
<text x="1660" y="81.5" fill="#000" text-anchor="start" style='font-family:"Liberation Sans", sans-serif;font-size:9.5px;font-weight:normal;letter-spacing:-0.25px;' >29086.0</text>
<text x="1660" y="114.5" fill="#000" text-anchor="start" style='font-family:"Liberation Sans", sans-serif;font-size:9.5px;font-weight:normal;letter-spacing:-0.25px;' >28729.0</text>
<text x="1660" y="147.5" fill="#000" text-anchor="start" style='font-family:"Liberation Sans", sans-serif;font-size:9.5px;font-weight:normal;letter-spacing:-0.25px;' >28361.5</text>
<text x="1660" y="180.5" fill="#000" text-anchor="start" style='font-family:"Liberation Sans", sans-serif;font-size:9.5px;font-weight:normal;letter-spacing:-0.25px;' >28004.5</text>
<text x="1660" y="213.5" fill="#000" text-anchor="start" style='font-family:"Liberation Sans", sans-serif;font-size:9.5px;font-weight:normal;letter-spacing:-0.25px;' >27637.0</text>
<text x="1660" y="246.5" fill="#000" text-anchor="start" style='font-family:"Liberation Sans", sans-serif;font-size:9.5px;font-weight:normal;letter-spacing:-0.25px;' >27280.0</text>
<text x="1660" y="279.5" fill="#000" text-anchor="start" style='font-family:"Liberation Sans", sans-serif;font-size:9.5px;font-weight:normal;letter-spacing:-0.25px;' >26912.5</text>
<text x="1660" y="312.5" fill="#000" text-anchor="start" style='font-family:"Liberation Sans", sans-serif;font-size:9.5px;font-weight:normal;letter-spacing:-0.25px;' >26555.5</text>
<text x="1660" y="345.5" fill="#000" text-anchor="start" style='font-family:"Liberation Sans", sans-serif;font-size:9.5px;font-weight:normal;letter-spacing:-0.25px;' >26188.0</text>
<text x="1660" y="378.5" fill="#000" text-anchor="start" style='font-family:"Liberation Sans", sans-serif;font-size:9.5px;font-weight:normal;letter-spacing:-0.25px;' >25831.0</text>
<text x="1660" y="411.5" fill="#000" text-anchor="start" style='font-family:"Liberation Sans", sans-serif;font-size:9.5px;font-weight:normal;letter-spacing:-0.25px;' >25463.5</text>
<text x="1660" y="444.5" fill="#000" text-anchor="start" style='font-family:"Liberation Sans", sans-serif;font-size:9.5px;font-weight:normal;letter-spacing:-0.25px;' >25106.5</text>
<text x="1660" y="477.5" fill="#000" text-anchor="start" style='font-family:"Liberation Sans", sans-serif;font-size:9.5px;font-weight:normal;letter-spacing:-0.25px;' >24739.0</text>
<text x="1660" y="510.5" fill="#000" text-anchor="start" style='font-family:"Liberation Sans", sans-serif;font-size:9.5px;font-weight:normal;letter-spacing:-0.25px;' ></text>
<text x="1660" y="543.5" fill="#000" text-anchor="start" style='font-family:"Liberation Sans", sans-serif;font-size:9.5px;font-weight:normal;letter-spacing:-0.25px;' >24014.5</text>
<text x="1660" y="576.5" fill="#000" text-anchor="start" style='font-family:"Liberation Sans", sans-serif;font-size:9.5px;font-weight:normal;letter-spacing:-0.25px;' >23657.5</text>
<rect x="1656" y="456" width="41" height="11" fill="#ff0000" shape-rendering="crispEdges"/>
<text x="1660" y="465.3" fill="#fff" text-anchor="start" style='font-family:"Liberation Sans", sans-serif;font-size:9.5px;font-weight:normal;letter-spacing:-0.25px;' >24875.5</text>
<rect x="1656" y="480" width="41" height="11" fill="#ff0000" shape-rendering="crispEdges"/>
<text x="1660" y="489.3" fill="#fff" text-anchor="start" style='font-family:"Liberation Sans", sans-serif;font-size:9.5px;font-weight:normal;letter-spacing:-0.25px;' >24612.4</text>
<rect x="1656" y="504" width="41" height="11" fill="#32c832" shape-rendering="crispEdges"/>
<text x="1660" y="513.3" fill="#fff" text-anchor="start" style='font-family:"Liberation Sans", sans-serif;font-size:9.5px;font-weight:normal;letter-spacing:-0.25px;' >24349.4</text>
<rect x="1656" y="520" width="41" height="11" fill="#000000" shape-rendering="crispEdges"/>
<text x="1660" y="529.3" fill="#fff" text-anchor="start" style='font-family:"Liberation Sans", sans-serif;font-size:9.5px;font-weight:normal;letter-spacing:-0.25px;' >24165.5</text>
<rect x="1656" y="541" width="41" height="11" fill="#0000ff" shape-rendering="crispEdges"/>
<text x="1660" y="550.3" fill="#fff" text-anchor="start" style='font-family:"Liberation Sans", sans-serif;font-size:9.5px;font-weight:normal;letter-spacing:-0.25px;' >23943.8</text>
<rect x="1656" y="563" width="41" height="11" fill="#0000ff" shape-rendering="crispEdges"/>
<text x="1660" y="572.3" fill="#fff" text-anchor="start" style='font-family:"Liberation Sans", sans-serif;font-size:9.5px;font-weight:normal;letter-spacing:-0.25px;' >23702.7</text>
<g shape-rendering="crispEdges"><rect x="1655" y="580" width="1" height="1" fill="#000"/><rect x="1655" y="627" width="1" height="1" fill="#000"/><rect x="1655" y="747" width="1" height="1" fill="#000"/></g>
<text x="1658" y="589" fill="#000" text-anchor="start" style='font-family:"Liberation Sans", sans-serif;font-size:9.5px;font-weight:normal;letter-spacing:-0.25px;' >275.75</text>
<text x="1658" y="631" fill="#000" text-anchor="start" style='font-family:"Liberation Sans", sans-serif;font-size:9.5px;font-weight:normal;letter-spacing:-0.25px;' >0.00</text>
<text x="1658" y="745" fill="#000" text-anchor="start" style='font-family:"Liberation Sans", sans-serif;font-size:9.5px;font-weight:normal;letter-spacing:-0.25px;' >-698.77</text>
<g shape-rendering="crispEdges"><rect x="1655" y="752" width="1" height="1" fill="#000"/></g>
<text x="1658" y="761" fill="#000" text-anchor="start" style='font-family:"Liberation Sans", sans-serif;font-size:9.5px;font-weight:normal;letter-spacing:-0.25px;' >100</text>
<text x="1658" y="790" fill="#000" text-anchor="start" style='font-family:"Liberation Sans", sans-serif;font-size:9.5px;font-weight:normal;letter-spacing:-0.25px;' >80</text>
<text x="1658" y="841" fill="#000" text-anchor="start" style='font-family:"Liberation Sans", sans-serif;font-size:9.5px;font-weight:normal;letter-spacing:-0.25px;' >50</text>
<text x="1658" y="902" fill="#000" text-anchor="start" style='font-family:"Liberation Sans", sans-serif;font-size:9.5px;font-weight:normal;letter-spacing:-0.25px;' >15</text>
<text x="1658" y="921" fill="#000" text-anchor="start" style='font-family:"Liberation Sans", sans-serif;font-size:9.5px;font-weight:normal;letter-spacing:-0.25px;' >0</text>
<g shape-rendering="crispEdges">
<rect x="59" y="925" width="1" height="3" fill="#000"/>
<rect x="123" y="925" width="1" height="3" fill="#000"/>
<rect x="187" y="925" width="1" height="3" fill="#000"/>
<rect x="251" y="925" width="1" height="3" fill="#000"/>
<rect x="315" y="925" width="1" height="3" fill="#000"/>
<rect x="379" y="925" width="1" height="3" fill="#000"/>
<rect x="443" y="925" width="1" height="3" fill="#000"/>
<rect x="507" y="925" width="1" height="3" fill="#000"/>
<rect x="571" y="925" width="1" height="3" fill="#000"/>
<rect x="635" y="925" width="1" height="3" fill="#000"/>
<rect x="699" y="925" width="1" height="3" fill="#000"/>
<rect x="763" y="925" width="1" height="3" fill="#000"/>
<rect x="827" y="925" width="1" height="3" fill="#000"/>
<rect x="891" y="925" width="1" height="3" fill="#000"/>
<rect x="955" y="925" width="1" height="3" fill="#000"/>
<rect x="1019" y="925" width="1" height="3" fill="#000"/>
<rect x="1083" y="925" width="1" height="3" fill="#000"/>
<rect x="1147" y="925" width="1" height="3" fill="#000"/>
<rect x="1211" y="925" width="1" height="3" fill="#000"/>
<rect x="1275" y="925" width="1" height="3" fill="#000"/>
<rect x="1339" y="925" width="1" height="3" fill="#000"/>
<rect x="1403" y="925" width="1" height="3" fill="#000"/>
</g>
<text x="-5.7" y="937" fill="#000" text-anchor="start" style='font-family:"Liberation Sans", sans-serif;font-size:9.5px;font-weight:normal;letter-spacing:0px;' >18 May 2021</text>
<text x="58" y="937" fill="#000" text-anchor="start" style='font-family:"Liberation Sans", sans-serif;font-size:9.5px;font-weight:normal;letter-spacing:0px;' >25 May 01:15</text>
<text x="122" y="937" fill="#000" text-anchor="start" style='font-family:"Liberation Sans", sans-serif;font-size:9.5px;font-weight:normal;letter-spacing:0px;' >31 May 01:15</text>
<text x="186" y="937" fill="#000" text-anchor="start" style='font-family:"Liberation Sans", sans-serif;font-size:9.5px;font-weight:normal;letter-spacing:0px;' >4 Jun 01:15</text>
<text x="250" y="937" fill="#000" text-anchor="start" style='font-family:"Liberation Sans", sans-serif;font-size:9.5px;font-weight:normal;letter-spacing:0px;' >10 Jun 01:15</text>
<text x="314" y="937" fill="#000" text-anchor="start" style='font-family:"Liberation Sans", sans-serif;font-size:9.5px;font-weight:normal;letter-spacing:0px;' >17 Jun 01:15</text>
<text x="378" y="937" fill="#000" text-anchor="start" style='font-family:"Liberation Sans", sans-serif;font-size:9.5px;font-weight:normal;letter-spacing:0px;' >23 Jun 01:15</text>
<text x="442" y="937" fill="#000" text-anchor="start" style='font-family:"Liberation Sans", sans-serif;font-size:9.5px;font-weight:normal;letter-spacing:0px;' >29 Jun 05:00</text>
<text x="506" y="937" fill="#000" text-anchor="start" style='font-family:"Liberation Sans", sans-serif;font-size:9.5px;font-weight:normal;letter-spacing:0px;' >6 Jul 05:00</text>
<text x="570" y="937" fill="#000" text-anchor="start" style='font-family:"Liberation Sans", sans-serif;font-size:9.5px;font-weight:normal;letter-spacing:0px;' >12 Jul 05:00</text>
<text x="634" y="937" fill="#000" text-anchor="start" style='font-family:"Liberation Sans", sans-serif;font-size:9.5px;font-weight:normal;letter-spacing:0px;' >16 Jul 05:00</text>
<text x="698" y="937" fill="#000" text-anchor="start" style='font-family:"Liberation Sans", sans-serif;font-size:9.5px;font-weight:normal;letter-spacing:0px;' >22 Jul 05:00</text>
<text x="762" y="937" fill="#000" text-anchor="start" style='font-family:"Liberation Sans", sans-serif;font-size:9.5px;font-weight:normal;letter-spacing:0px;' >28 Jul 05:00</text>
<text x="826" y="937" fill="#000" text-anchor="start" style='font-family:"Liberation Sans", sans-serif;font-size:9.5px;font-weight:normal;letter-spacing:0px;' >3 Aug 05:00</text>
<text x="890" y="937" fill="#000" text-anchor="start" style='font-family:"Liberation Sans", sans-serif;font-size:9.5px;font-weight:normal;letter-spacing:0px;' >9 Aug 05:00</text>
<text x="954" y="937" fill="#000" text-anchor="start" style='font-family:"Liberation Sans", sans-serif;font-size:9.5px;font-weight:normal;letter-spacing:0px;' >13 Aug 05:00</text>
<text x="1018" y="937" fill="#000" text-anchor="start" style='font-family:"Liberation Sans", sans-serif;font-size:9.5px;font-weight:normal;letter-spacing:0px;' >19 Aug 05:00</text>
<text x="1082" y="937" fill="#000" text-anchor="start" style='font-family:"Liberation Sans", sans-serif;font-size:9.5px;font-weight:normal;letter-spacing:0px;' >25 Aug 05:00</text>
<text x="1146" y="937" fill="#000" text-anchor="start" style='font-family:"Liberation Sans", sans-serif;font-size:9.5px;font-weight:normal;letter-spacing:0px;' >31 Aug 05:00</text>
<text x="1210" y="937" fill="#000" text-anchor="start" style='font-family:"Liberation Sans", sans-serif;font-size:9.5px;font-weight:normal;letter-spacing:0px;' >6 Sep 05:00</text>
<text x="1274" y="937" fill="#000" text-anchor="start" style='font-family:"Liberation Sans", sans-serif;font-size:9.5px;font-weight:normal;letter-spacing:0px;' >10 Sep 05:00</text>
<text x="1338" y="937" fill="#000" text-anchor="start" style='font-family:"Liberation Sans", sans-serif;font-size:9.5px;font-weight:normal;letter-spacing:0px;' >16 Sep 05:00</text>
<text x="1402" y="937" fill="#000" text-anchor="start" style='font-family:"Liberation Sans", sans-serif;font-size:9.5px;font-weight:normal;letter-spacing:0px;' >23 Sep 05:00</text>
<polygon points="-1.5,34 1.5,30 4.6,34" fill="#000"/>
<text x="10.6" y="35" fill="#000" text-anchor="start" style='font-family:"Liberation Sans", sans-serif;font-size:9.5px;font-weight:normal;letter-spacing:-0.2px;' >HK50-,H4</text>
<text x="57.6" y="35" fill="#000" text-anchor="start" style='font-family:"Liberation Sans", sans-serif;font-size:9.5px;font-weight:normal;letter-spacing:-0.17px;' >24246.0 24350.0 24104.0 24165.5</text>
<g>
<rect x="0" y="43" width="217" height="57" fill="#fff"/>
<rect x="0" y="43" width="51" height="25" fill="url(#gsell)"/>
<rect x="0" y="67" width="107" height="33" fill="url(#gprice)"/>
<g shape-rendering="crispEdges">
<rect x="0" y="43" width="51" height="1" fill="#c81e1e"/>
<rect x="50" y="43" width="1" height="25" fill="#c81e1e"/>
<rect x="51" y="67" width="56" height="1" fill="#b01010"/>
<rect x="106" y="67" width="1" height="33" fill="#a00000"/>
<rect x="0" y="99" width="107" height="1" fill="#a00000"/>
<rect x="2" y="66" width="44" height="1" fill="#8c0a0a"/>
<rect x="2" y="67" width="44" height="1" fill="#ff8a8a"/>
</g>
<rect x="165" y="43" width="52" height="25" fill="url(#gsell)"/>
<rect x="109" y="67" width="108" height="33" fill="url(#gprice)"/>
<g shape-rendering="crispEdges">
<rect x="165" y="43" width="52" height="1" fill="#c81e1e"/>
<rect x="165" y="43" width="1" height="25" fill="#c81e1e"/>
<rect x="216" y="43" width="1" height="57" fill="#a00000"/>
<rect x="109" y="67" width="57" height="1" fill="#b01010"/>
<rect x="109" y="67" width="1" height="33" fill="#c01010"/>
<rect x="109" y="99" width="108" height="1" fill="#a00000"/>
<rect x="169" y="66" width="44" height="1" fill="#8c0a0a"/>
<rect x="169" y="67" width="44" height="1" fill="#ff8a8a"/>
<rect x="52" y="43" width="111" height="23" fill="#a4a8b0"/>
<rect x="53" y="44" width="109" height="21" fill="#ffffff"/>
</g>
<rect x="53" y="44" width="20" height="21" fill="url(#gbtn)" shape-rendering="crispEdges"/>
<rect x="142" y="44" width="20" height="21" fill="url(#gbtn)" shape-rendering="crispEdges"/>
<g shape-rendering="crispEdges">
<rect x="73" y="44" width="1" height="21" fill="#a4a8b0"/>
<rect x="141" y="44" width="1" height="21" fill="#a4a8b0"/>
</g>
<polygon points="59.5,52 66.5,52 63,55.5" fill="#4a5fc8"/>
<polygon points="148.5,55.5 155.5,55.5 152,52" fill="#4a5fc8"/>
<text x="137.6" y="58" fill="#000" text-anchor="end" style='font-family:"Liberation Sans", sans-serif;font-size:12.5px;font-weight:normal;letter-spacing:-0.2px;' >1.00</text>
<text x="10.3" y="59" fill="#fff" text-anchor="start" style='font-family:"Liberation Sans", sans-serif;font-size:11.5px;font-weight:normal;letter-spacing:-0.1px;' >SELL</text>
<text x="178.7" y="59" fill="#fff" text-anchor="start" style='font-family:"Liberation Sans", sans-serif;font-size:11.5px;font-weight:normal;letter-spacing:0px;' >BUY</text>
<text x="14" y="95" fill="#fff" text-anchor="start" style='font-family:"Liberation Sans", sans-serif;font-size:12px;font-weight:bold;letter-spacing:0.3px;' >24164</text>
<text x="52.6" y="95" fill="#fff" text-anchor="start" style='font-family:"Liberation Sans", sans-serif;font-size:14.5px;font-weight:bold;' >.</text>
<text x="0" y="0" fill="#fff" transform="translate(59.3,95) scale(0.89,1)" style='font-family:"Liberation Sans", sans-serif;font-size:35.5px;'>0</text>
<text x="124.3" y="95" fill="#fff" text-anchor="start" style='font-family:"Liberation Sans", sans-serif;font-size:12px;font-weight:bold;letter-spacing:0.1px;' >24177</text>
<text x="163.6" y="95" fill="#fff" text-anchor="start" style='font-family:"Liberation Sans", sans-serif;font-size:14.5px;font-weight:bold;' >.</text>
<text x="0" y="0" fill="#fff" transform="translate(170.1,95) scale(0.89,1)" style='font-family:"Liberation Sans", sans-serif;font-size:35.5px;'>0</text>
</g>
</svg>
</body></html>
